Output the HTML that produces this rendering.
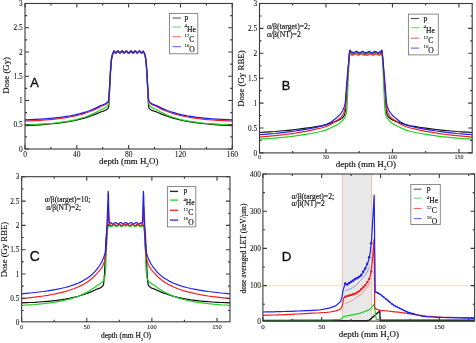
<!DOCTYPE html>
<html><head><meta charset="utf-8"><style>
html,body{margin:0;padding:0;background:#fff;overflow:hidden;}
svg{display:block;filter:blur(0.3px);}
</style></head><body>
<svg width="476" height="343" viewBox="0 0 476 343" fill="#111">
<rect width="476" height="343" fill="#fff"/>
<polyline points="25,125.6 30,125.4 35,125.1 40,124.8 45,124.4 50,124 55.1,123.5 60.1,122.9 65.1,122.2 70.1,121.3 75.1,120.4 80.1,119.2 85.1,117.9 90.1,116.3 95.1,114.4 100.1,112.3 100.4,112.1 100.7,112 100.9,111.9 101.2,111.8 101.4,111.7 101.7,111.6 102,111.5 102.2,111.4 102.5,111.3 102.7,111.3 103,111.2 103.3,111.1 103.5,111 103.8,111 104,110.9 104.3,110.8 104.6,110.7 104.8,110.6 105.1,110.5 105.3,110.4 105.6,110.3 105.8,110.2 106.1,110 106.4,109.8 106.6,109.7 106.9,109.5 107.1,109.2 107.4,109 107.7,108.7 107.9,108.4 108.2,108.1 108.4,107.8 108.7,106.2 109,102.7 109.2,98 109.5,93.1 109.7,88.4 110,82.8 110.3,77.1 110.5,72.4 110.8,68.5 111,65 111.3,62 111.5,59.8 111.8,58 112.1,56.5 112.3,55.3 112.6,54.3 112.8,53.6 113.1,53 113.4,52.5 113.6,52.1 113.9,51 114.1,51.1 114.4,51.3 114.7,51.6 114.9,52 115.2,52.3 115.4,52.7 115.7,52.9 116,53 116.2,52.9 116.5,52.7 116.7,52.4 117,52.1 117.2,51.7 117.5,51.4 117.8,51.1 118,51 118.3,51.1 118.5,51.2 118.8,51.5 119.1,51.9 119.3,52.3 119.6,52.6 119.8,52.8 120.1,53 120.4,52.9 120.6,52.8 120.9,52.5 121.1,52.2 121.4,51.8 121.7,51.4 121.9,51.2 122.2,51 122.4,51 122.7,51.2 122.9,51.4 123.2,51.8 123.5,52.2 123.7,52.5 124,52.8 124.2,52.9 124.5,53 124.8,52.8 125,52.6 125.3,52.3 125.5,51.9 125.8,51.5 126.1,51.2 126.3,51.1 126.6,51 126.8,51.1 127.1,51.4 127.4,51.7 127.6,52.1 127.9,52.4 128.1,52.7 128.4,52.9 128.7,53 128.9,52.9 129.2,52.7 129.4,52.4 129.7,52.1 129.9,51.7 130.2,51.4 130.5,51.1 130.7,51 131,51.1 131.2,51.2 131.5,51.5 131.8,51.9 132,52.3 132.3,52.6 132.5,52.8 132.8,53 133.1,52.9 133.3,52.8 133.6,52.5 133.8,52.2 134.1,51.8 134.4,51.4 134.6,51.2 134.9,51 135.1,51 135.4,51.2 135.6,51.4 135.9,51.8 136.2,52.2 136.4,52.5 136.7,52.8 136.9,52.9 137.2,53 137.5,52.8 137.7,52.6 138,52.3 138.2,51.9 138.5,51.5 138.8,51.2 139,51.1 139.3,51 139.5,51.1 139.8,51.4 140.1,51.7 140.3,52.1 140.6,52.4 140.8,52.7 141.1,52.9 141.3,53 141.6,52.9 141.9,52.7 142.1,52.3 142.4,52 142.6,51.6 142.9,51.3 143.2,51.1 143.4,52 143.7,52.1 143.9,52.5 144.2,53 144.5,53.6 144.7,54.3 145,55.3 145.2,56.5 145.5,58 145.8,59.8 146,62 146.3,65 146.5,68.5 146.8,72.4 147,77.1 147.3,82.8 147.6,88.4 147.8,93.1 148.1,98 148.3,102.7 148.6,106.2 148.9,107.8 149.1,108.1 149.4,108.4 149.6,108.7 149.9,109 150.2,109.2 150.4,109.5 150.7,109.7 150.9,109.8 151.2,110 151.5,110.2 151.7,110.3 152,110.4 152.2,110.5 152.5,110.6 152.7,110.7 153,110.8 153.3,110.9 153.5,111 153.8,111 154,111.1 154.3,111.2 154.6,111.3 154.8,111.3 155.1,111.4 155.3,111.5 155.6,111.6 155.9,111.7 156.1,111.8 156.4,111.9 156.6,112 156.9,112.1 157.2,112.3 162.2,114.4 167.2,116.3 172.2,117.9 177.2,119.2 182.2,120.4 187.2,121.3 192.2,122.2 197.2,122.9 202.2,123.5 207.3,124 212.3,124.4 217.3,124.8 222.3,125.1 227.3,125.4 232.3,125.6" fill="none" stroke="#111" stroke-width="1.2" stroke-linejoin="round" />
<polyline points="25,124.9 30,124.7 35,124.5 40,124.2 45,123.9 50,123.5 55.1,123 60.1,122.4 65.1,121.7 70.1,120.9 75.1,119.8 80.1,118.5 85.1,117 90.1,115.1 95.1,112.9 100.1,110.1 100.4,109.9 100.7,109.8 100.9,109.6 101.2,109.5 101.4,109.3 101.7,109.2 102,109.1 102.2,109 102.5,108.9 102.7,108.8 103,108.7 103.3,108.6 103.5,108.5 103.8,108.4 104,108.3 104.3,108.2 104.6,108 104.8,107.9 105.1,107.8 105.3,107.6 105.6,107.5 105.8,107.3 106.1,107.1 106.4,106.8 106.6,106.6 106.9,106.3 107.1,106 107.4,105.7 107.7,105.4 107.9,105 108.2,104.6 108.4,104.2 108.7,102.6 109,99.3 109.2,95 109.5,90.5 109.7,86.2 110,81.1 110.3,75.8 110.5,71.4 110.8,67.7 111,64.3 111.3,61.4 111.5,59.3 111.8,57.7 112.1,56.3 112.3,55.2 112.6,54.3 112.8,53.6 113.1,53 113.4,52.5 113.6,52.2 113.9,51.1 114.1,51.4 114.4,51.7 114.7,52.1 114.9,52.4 115.2,52.7 115.4,52.9 115.7,53 116,52.9 116.2,52.6 116.5,52.3 116.7,52 117,51.6 117.2,51.3 117.5,51.1 117.8,51 118,51.1 118.3,51.3 118.5,51.6 118.8,52 119.1,52.4 119.3,52.7 119.6,52.9 119.8,53 120.1,52.9 120.4,52.7 120.6,52.4 120.9,52.1 121.1,51.7 121.4,51.4 121.7,51.1 121.9,51 122.2,51.1 122.4,51.3 122.7,51.5 122.9,51.9 123.2,52.3 123.5,52.6 123.7,52.8 124,53 124.2,52.9 124.5,52.8 124.8,52.5 125,52.1 125.3,51.8 125.5,51.4 125.8,51.2 126.1,51 126.3,51.1 126.6,51.2 126.8,51.5 127.1,51.8 127.4,52.2 127.6,52.5 127.9,52.8 128.1,52.9 128.4,53 128.7,52.8 128.9,53 129.2,52.9 129.4,52.8 129.7,52.5 129.9,52.2 130.2,51.8 130.5,51.5 130.7,51.2 131,51.1 131.2,51 131.5,51.2 131.8,51.4 132,51.8 132.3,52.1 132.5,52.5 132.8,52.8 133.1,52.9 133.3,53 133.6,52.8 133.8,52.6 134.1,52.3 134.4,51.9 134.6,51.5 134.9,51.3 135.1,51.1 135.4,51 135.6,51.1 135.9,51.4 136.2,51.7 136.4,52.1 136.7,52.4 136.9,52.7 137.2,52.9 137.5,53 137.7,52.9 138,52.7 138.2,52.4 138.5,52 138.8,51.6 139,51.3 139.3,51.1 139.5,51 139.8,51.1 140.1,51.3 140.3,51.6 140.6,52 140.8,52.3 141.1,52.6 141.3,52.9 141.6,53 141.9,52.9 142.1,52.7 142.4,52.4 142.6,52.1 142.9,51.7 143.2,51.4 143.4,52 143.7,52.2 143.9,52.5 144.2,53 144.5,53.6 144.7,54.3 145,55.2 145.2,56.3 145.5,57.7 145.8,59.3 146,61.4 146.3,64.3 146.5,67.7 146.8,71.4 147,75.8 147.3,81.1 147.6,86.2 147.8,90.5 148.1,95 148.3,99.3 148.6,102.6 148.9,104.2 149.1,104.6 149.4,105 149.6,105.4 149.9,105.7 150.2,106 150.4,106.3 150.7,106.6 150.9,106.8 151.2,107.1 151.5,107.3 151.7,107.5 152,107.6 152.2,107.8 152.5,107.9 152.7,108 153,108.2 153.3,108.3 153.5,108.4 153.8,108.5 154,108.6 154.3,108.7 154.6,108.8 154.8,108.9 155.1,109 155.3,109.1 155.6,109.2 155.9,109.3 156.1,109.5 156.4,109.6 156.6,109.8 156.9,109.9 157.2,110.1 162.2,112.9 167.2,115.1 172.2,117 177.2,118.5 182.2,119.8 187.2,120.9 192.2,121.7 197.2,122.4 202.2,123 207.3,123.5 212.3,123.9 217.3,124.2 222.3,124.5 227.3,124.7 232.3,124.9" fill="none" stroke="#20d020" stroke-width="1.2" stroke-linejoin="round" />
<polyline points="25,121 30,120.8 35,120.6 40,120.3 45,120 50,119.6 55.1,119.1 60.1,118.5 65.1,117.8 70.1,117 75.1,115.9 80.1,114.7 85.1,113.3 90.1,111.5 95.1,109.4 100.1,106.9 100.4,106.7 100.7,106.6 100.9,106.4 101.2,106.3 101.4,106.2 101.7,106 102,105.9 102.2,105.8 102.5,105.7 102.7,105.7 103,105.6 103.3,105.5 103.5,105.4 103.8,105.3 104,105.2 104.3,105.1 104.6,105 104.8,104.9 105.1,104.8 105.3,104.6 105.6,104.5 105.8,104.3 106.1,104.1 106.4,103.9 106.6,103.7 106.9,103.5 107.1,103.2 107.4,102.9 107.7,102.6 107.9,102.3 108.2,101.9 108.4,101.5 108.7,99.9 109,96.7 109.2,92.4 109.5,88 109.7,83.9 110,79.2 110.3,74.5 110.5,70.4 110.8,66.9 111,63.7 111.3,60.9 111.5,58.8 111.8,57.3 112.1,55.9 112.3,54.8 112.6,54 112.8,53.4 113.1,52.9 113.4,52.4 113.6,52.1 113.9,51.5 114.1,51.8 114.4,52.2 114.7,52.5 114.9,52.8 115.2,52.9 115.4,53 115.7,52.8 116,52.6 116.2,52.2 116.5,51.9 116.7,51.5 117,51.2 117.2,51.1 117.5,51 117.8,51.2 118,51.4 118.3,51.7 118.5,52.1 118.8,52.5 119.1,52.7 119.3,52.9 119.6,53 119.8,52.9 120.1,52.6 120.4,52.3 120.6,51.9 120.9,51.6 121.1,51.3 121.4,51.1 121.7,51 121.9,51.1 122.2,51.3 122.4,51.6 122.7,52 122.9,52.4 123.2,52.7 123.5,52.9 123.7,53 124,52.9 124.2,52.7 124.5,52.4 124.8,52 125,51.7 125.3,51.4 125.5,51.1 125.8,51 126.1,51.1 126.3,51.3 126.6,51.6 126.8,51.9 127.1,52.3 127.4,52.6 127.6,52.9 127.9,53 128.1,52.9 128.4,52.8 128.7,52.5 128.9,52.8 129.2,52.9 129.4,53 129.7,52.9 129.9,52.6 130.2,52.3 130.5,51.9 130.7,51.6 131,51.3 131.2,51.1 131.5,51 131.8,51.1 132,51.4 132.3,51.7 132.5,52 132.8,52.4 133.1,52.7 133.3,52.9 133.6,53 133.8,52.9 134.1,52.7 134.4,52.4 134.6,52 134.9,51.6 135.1,51.3 135.4,51.1 135.6,51 135.9,51.1 136.2,51.3 136.4,51.6 136.7,51.9 136.9,52.3 137.2,52.6 137.5,52.9 137.7,53 138,52.9 138.2,52.7 138.5,52.5 138.8,52.1 139,51.7 139.3,51.4 139.5,51.2 139.8,51 140.1,51.1 140.3,51.2 140.6,51.5 140.8,51.9 141.1,52.2 141.3,52.6 141.6,52.8 141.9,53 142.1,52.9 142.4,52.8 142.6,52.5 142.9,52.2 143.2,51.8 143.4,52 143.7,52.1 143.9,52.4 144.2,52.9 144.5,53.4 144.7,54 145,54.8 145.2,55.9 145.5,57.3 145.8,58.8 146,60.9 146.3,63.7 146.5,66.9 146.8,70.4 147,74.5 147.3,79.2 147.6,83.9 147.8,88 148.1,92.4 148.3,96.7 148.6,99.9 148.9,101.5 149.1,101.9 149.4,102.3 149.6,102.6 149.9,102.9 150.2,103.2 150.4,103.5 150.7,103.7 150.9,103.9 151.2,104.1 151.5,104.3 151.7,104.5 152,104.6 152.2,104.8 152.5,104.9 152.7,105 153,105.1 153.3,105.2 153.5,105.3 153.8,105.4 154,105.5 154.3,105.6 154.6,105.7 154.8,105.7 155.1,105.8 155.3,105.9 155.6,106 155.9,106.2 156.1,106.3 156.4,106.4 156.6,106.6 156.9,106.7 157.2,106.9 162.2,109.4 167.2,111.5 172.2,113.3 177.2,114.7 182.2,115.9 187.2,117 192.2,117.8 197.2,118.5 202.2,119.1 207.3,119.6 212.3,120 217.3,120.3 222.3,120.6 227.3,120.8 232.3,121" fill="none" stroke="#ee2020" stroke-width="1.2" stroke-linejoin="round" />
<polyline points="25,119.8 30,119.6 35,119.4 40,119.1 45,118.8 50,118.4 55.1,117.9 60.1,117.3 65.1,116.6 70.1,115.8 75.1,114.8 80.1,113.6 85.1,112.2 90.1,110.5 95.1,108.4 100.1,105.9 100.4,105.8 100.7,105.7 100.9,105.5 101.2,105.4 101.4,105.3 101.7,105.2 102,105.1 102.2,105 102.5,104.9 102.7,104.8 103,104.7 103.3,104.6 103.5,104.5 103.8,104.4 104,104.3 104.3,104.2 104.6,104.1 104.8,104 105.1,103.9 105.3,103.8 105.6,103.6 105.8,103.5 106.1,103.3 106.4,103.1 106.6,102.9 106.9,102.7 107.1,102.4 107.4,102.1 107.7,101.8 107.9,101.5 108.2,101.1 108.4,100.8 108.7,99.3 109,96.2 109.2,92.2 109.5,87.9 109.7,83.9 110,79.3 110.3,74.5 110.5,70.4 110.8,66.9 111,63.7 111.3,60.9 111.5,58.8 111.8,57.3 112.1,55.9 112.3,54.8 112.6,54 112.8,53.4 113.1,52.9 113.4,52.4 113.6,52.1 113.9,51 114.1,51.2 114.4,51.5 114.7,51.8 114.9,52.2 115.2,52.5 115.4,52.8 115.7,52.9 116,53 116.2,52.8 116.5,52.6 116.7,52.2 117,51.9 117.2,51.5 117.5,51.2 117.8,51.1 118,51 118.3,51.1 118.5,51.4 118.8,51.7 119.1,52.1 119.3,52.4 119.6,52.7 119.8,52.9 120.1,53 120.4,52.9 120.6,52.7 120.9,52.3 121.1,52 121.4,51.6 121.7,51.3 121.9,51.1 122.2,51 122.4,51.1 122.7,51.3 122.9,51.6 123.2,52 123.5,52.4 123.7,52.7 124,52.9 124.2,53 124.5,52.9 124.8,52.7 125,52.4 125.3,52.1 125.5,51.7 125.8,51.4 126.1,51.1 126.3,51 126.6,51.1 126.8,51.2 127.1,51.5 127.4,51.9 127.6,52.3 127.9,52.6 128.1,52.8 128.4,53 128.7,52.9 128.9,53 129.2,52.8 129.4,52.6 129.7,52.3 129.9,51.9 130.2,51.5 130.5,51.2 130.7,51.1 131,51 131.2,51.1 131.5,51.4 131.8,51.7 132,52.1 132.3,52.4 132.5,52.7 132.8,52.9 133.1,53 133.3,52.9 133.6,52.7 133.8,52.4 134.1,52 134.4,51.6 134.6,51.3 134.9,51.1 135.1,51 135.4,51.1 135.6,51.3 135.9,51.6 136.2,52 136.4,52.3 136.7,52.7 136.9,52.9 137.2,53 137.5,52.9 137.7,52.7 138,52.4 138.2,52.1 138.5,51.7 138.8,51.4 139,51.1 139.3,51 139.5,51.1 139.8,51.2 140.1,51.5 140.3,51.9 140.6,52.2 140.8,52.6 141.1,52.8 141.3,53 141.6,52.9 141.9,52.8 142.1,52.5 142.4,52.2 142.6,51.8 142.9,51.5 143.2,51.2 143.4,52 143.7,52.1 143.9,52.4 144.2,52.9 144.5,53.4 144.7,54 145,54.8 145.2,55.9 145.5,57.3 145.8,58.8 146,60.9 146.3,63.7 146.5,66.9 146.8,70.4 147,74.5 147.3,79.3 147.6,83.9 147.8,87.9 148.1,92.2 148.3,96.2 148.6,99.3 148.9,100.8 149.1,101.1 149.4,101.5 149.6,101.8 149.9,102.1 150.2,102.4 150.4,102.7 150.7,102.9 150.9,103.1 151.2,103.3 151.5,103.5 151.7,103.6 152,103.8 152.2,103.9 152.5,104 152.7,104.1 153,104.2 153.3,104.3 153.5,104.4 153.8,104.5 154,104.6 154.3,104.7 154.6,104.8 154.8,104.9 155.1,105 155.3,105.1 155.6,105.2 155.9,105.3 156.1,105.4 156.4,105.5 156.6,105.7 156.9,105.8 157.2,105.9 162.2,108.4 167.2,110.5 172.2,112.2 177.2,113.6 182.2,114.8 187.2,115.8 192.2,116.6 197.2,117.3 202.2,117.9 207.3,118.4 212.3,118.8 217.3,119.1 222.3,119.4 227.3,119.6 232.3,119.8" fill="none" stroke="#2020ee" stroke-width="1.2" stroke-linejoin="round" />
<rect x="25" y="3.47" width="207.3" height="145.53" fill="none" stroke="#3a3a3a" stroke-width="1.1"/>
<path d="M25 149v-4M25 3.47v4M76.83 149v-4M76.83 3.47v4M128.65 149v-4M128.65 3.47v4M180.47 149v-4M180.47 3.47v4M232.3 149v-4M232.3 3.47v4M50.91 149v-2M50.91 3.47v2M102.74 149v-2M102.74 3.47v2M154.56 149v-2M154.56 3.47v2M206.39 149v-2M206.39 3.47v2M25 149h4M232.3 149h-4M25 124.75h4M232.3 124.75h-4M25 100.5h4M232.3 100.5h-4M25 76.25h4M232.3 76.25h-4M25 52h4M232.3 52h-4M25 27.75h4M232.3 27.75h-4M25 3.5h4M232.3 3.5h-4M25 136.88h2M232.3 136.88h-2M25 112.62h2M232.3 112.62h-2M25 88.38h2M232.3 88.38h-2M25 64.12h2M232.3 64.12h-2M25 39.88h2M232.3 39.88h-2M25 15.62h2M232.3 15.62h-2" stroke="#3a3a3a" stroke-width="1.1" fill="none"/>
<text x="25" y="156.7" font-size="7.5" text-anchor="middle" font-family='"Liberation Serif", serif' stroke="#111" stroke-width="0.07">0</text>
<text x="76.83" y="156.7" font-size="7.5" text-anchor="middle" font-family='"Liberation Serif", serif' stroke="#111" stroke-width="0.07">40</text>
<text x="128.65" y="156.7" font-size="7.5" text-anchor="middle" font-family='"Liberation Serif", serif' stroke="#111" stroke-width="0.07">80</text>
<text x="180.47" y="156.7" font-size="7.5" text-anchor="middle" font-family='"Liberation Serif", serif' stroke="#111" stroke-width="0.07">120</text>
<text x="232.3" y="156.7" font-size="7.5" text-anchor="middle" font-family='"Liberation Serif", serif' stroke="#111" stroke-width="0.07">160</text>
<text x="22.7" y="151.6" font-size="7.3" text-anchor="end" font-family='"Liberation Serif", serif' stroke="#111" stroke-width="0.07">0</text>
<text x="22.7" y="127.35" font-size="7.3" text-anchor="end" font-family='"Liberation Serif", serif' stroke="#111" stroke-width="0.07">0.5</text>
<text x="22.7" y="103.1" font-size="7.3" text-anchor="end" font-family='"Liberation Serif", serif' stroke="#111" stroke-width="0.07">1</text>
<text x="22.7" y="78.85" font-size="7.3" text-anchor="end" font-family='"Liberation Serif", serif' stroke="#111" stroke-width="0.07">1.5</text>
<text x="22.7" y="54.6" font-size="7.3" text-anchor="end" font-family='"Liberation Serif", serif' stroke="#111" stroke-width="0.07">2</text>
<text x="22.7" y="30.35" font-size="7.3" text-anchor="end" font-family='"Liberation Serif", serif' stroke="#111" stroke-width="0.07">2.5</text>
<text x="22.7" y="6.1" font-size="7.3" text-anchor="end" font-family='"Liberation Serif", serif' stroke="#111" stroke-width="0.07">3</text>
<text x="128.7" y="163.9" font-family='"Liberation Serif", serif' font-size="8.9" text-anchor="middle" stroke="#111" stroke-width="0.15">depth (mm H<tspan font-size="5.34" dy="2.94">2</tspan><tspan dy="-2.94">O)</tspan></text>
<text x="0" y="0" transform="translate(9 75.4) rotate(-90)" font-family='"Liberation Serif", serif' font-size="8.8" text-anchor="middle" stroke="#111" stroke-width="0.15">Dose (Gy)</text>
<text x="34.6" y="86.6" font-size="12.8" text-anchor="middle" font-family='"Liberation Sans", sans-serif' stroke="#111" stroke-width="0.35">A</text>
<rect x="169.5" y="13.5" width="28.3" height="40.3" fill="#fff" stroke="#777" stroke-width="0.85"/>
<path d="M172.5 18H180.9" stroke="#111" stroke-width="1.0" opacity="0.75"/>
<text x="184.5" y="20" font-family='"Liberation Serif", serif' font-size="7.6" stroke="#111" stroke-width="0.15">p</text>
<path d="M172.5 27H180.9" stroke="#20d020" stroke-width="1.0" opacity="0.75"/>
<text x="184.5" y="32" font-family='"Liberation Serif", serif' font-size="7.6" stroke="#111" stroke-width="0.15"><tspan font-size="4.86" dy="-4.56" stroke-width="0.07">4</tspan><tspan dy="4.56">He</tspan></text>
<path d="M172.5 36.8H180.9" stroke="#ee2020" stroke-width="1.0" opacity="0.75"/>
<text x="184.5" y="41.7" font-family='"Liberation Serif", serif' font-size="7.6" stroke="#111" stroke-width="0.15"><tspan font-size="4.86" dy="-4.56" stroke-width="0.07">12</tspan><tspan dy="4.56">C</tspan></text>
<path d="M172.5 46.7H180.9" stroke="#2020ee" stroke-width="1.0" opacity="0.75"/>
<text x="184.5" y="51.6" font-family='"Liberation Serif", serif' font-size="7.6" stroke="#111" stroke-width="0.15"><tspan font-size="4.86" dy="-4.56" stroke-width="0.07">16</tspan><tspan dy="4.56">O</tspan></text>
<polyline points="259.5,132.5 264.6,132.2 269.8,131.8 274.9,131.5 280.1,131 285.2,130.6 290.3,130.1 295.5,129.5 300.6,128.9 305.8,128.2 310.9,127.5 316,126.7 321.2,125.8 326.3,124.6 331.5,122.9 336.6,121.1 336.9,121 337.1,120.9 337.4,120.7 337.7,120.6 337.9,120.5 338.2,120.4 338.5,120.3 338.7,120.2 339,120 339.3,119.9 339.5,119.8 339.8,119.6 340.1,119.5 340.3,119.3 340.6,119.1 340.9,119 341.1,118.8 341.4,118.6 341.7,118.4 341.9,118.2 342.2,118 342.5,117.8 342.7,117.5 343,117.3 343.3,116.9 343.5,116.6 343.8,116.2 344,115.8 344.3,115.3 344.6,114.6 344.8,113.7 345.1,112.4 345.4,110.4 345.6,106.8 345.9,102.3 346.2,98.1 346.4,94.7 346.7,91.5 347,88.3 347.2,85 347.5,81.3 347.8,77.1 348,72.7 348.3,68.3 348.6,64.2 348.8,60.8 349.1,57.5 349.4,54.3 349.6,51.8 349.9,50.8 350.2,50.9 350.4,51.2 350.7,52.1 351,52.7 351.2,52.7 351.5,52.8 351.8,52.9 352,53.1 352.3,53.3 352.6,53.5 352.8,53.6 353.1,53.8 353.4,53.9 353.6,53.9 353.9,53.9 354.2,53.9 354.4,53.8 354.7,53.7 354.9,53.5 355.2,53.4 355.5,53.2 355.7,53 356,52.9 356.3,52.8 356.5,52.7 356.8,52.7 357.1,52.7 357.3,52.8 357.6,52.9 357.9,53 358.1,53.2 358.4,53.4 358.7,53.5 358.9,53.7 359.2,53.8 359.5,53.9 359.7,53.9 360,53.9 360.3,53.9 360.5,53.8 360.8,53.6 361.1,53.5 361.3,53.3 361.6,53.1 361.9,52.9 362.1,52.8 362.4,52.7 362.7,52.7 362.9,52.7 363.2,52.7 363.5,52.8 363.7,52.9 364,53.1 364.3,53.3 364.5,53.5 364.8,53.6 365.1,53.8 365.3,53.9 365.6,53.9 365.9,53.9 366.1,53.9 366.4,53.9 366.6,53.8 366.9,53.6 367.2,53.5 367.4,53.3 367.7,53.1 368,52.9 368.2,52.8 368.5,52.7 368.8,52.7 369,52.7 369.3,52.7 369.6,52.8 369.8,52.9 370.1,53.1 370.4,53.3 370.6,53.5 370.9,53.6 371.2,53.8 371.4,53.9 371.7,53.9 372,53.9 372.2,53.9 372.5,53.8 372.8,53.7 373,53.5 373.3,53.4 373.6,53.2 373.8,53 374.1,52.9 374.4,52.8 374.6,52.7 374.9,52.7 375.2,52.7 375.4,52.8 375.7,52.9 376,53 376.2,53.2 376.5,53.4 376.8,53.5 377,53.7 377.3,53.8 377.5,53.9 377.8,53.9 378.1,53.9 378.3,53.9 378.6,53.8 378.9,53.6 379.1,53.5 379.4,53.3 379.7,53.1 379.9,52.9 380.2,52.8 380.5,52.7 380.7,52.7 381,52.1 381.3,51.2 381.5,50.9 381.8,50.8 382.1,51.8 382.3,54.3 382.6,57.5 382.9,60.8 383.1,64.2 383.4,68.3 383.7,72.7 383.9,77.1 384.2,81.3 384.5,85 384.7,88.3 385,91.5 385.3,94.7 385.5,98.1 385.8,102.3 386.1,106.8 386.3,110.4 386.6,112.4 386.9,113.7 387.1,114.6 387.4,115.3 387.7,115.8 387.9,116.2 388.2,116.6 388.4,116.9 388.7,117.3 389,117.5 389.2,117.8 389.5,118 389.8,118.2 390,118.4 390.3,118.6 390.6,118.8 390.8,119 391.1,119.1 391.4,119.3 391.6,119.5 391.9,119.6 392.2,119.8 392.4,119.9 392.7,120 393,120.2 393.2,120.3 393.5,120.4 393.8,120.5 394,120.6 394.3,120.7 394.6,120.9 394.8,121 395.1,121.1 400.2,122.9 405.4,124.6 410.5,125.8 415.7,126.7 420.8,127.5 425.9,128.2 431.1,128.9 436.2,129.5 441.4,130.1 446.5,130.6 451.6,131 456.8,131.5 461.9,131.8 467.1,132.2 472.2,132.5" fill="none" stroke="#111" stroke-width="1.2" stroke-linejoin="round" />
<polyline points="259.5,139.2 264.6,138.8 269.8,138.5 274.9,138.1 280.1,137.6 285.2,137.1 290.3,136.6 295.5,135.9 300.6,135.2 305.8,134.4 310.9,133.5 316,132.5 321.2,131.5 326.3,129.9 331.5,127.5 336.6,125.1 336.9,124.9 337.1,124.8 337.4,124.6 337.7,124.4 337.9,124.3 338.2,124.1 338.5,123.9 338.7,123.7 339,123.5 339.3,123.4 339.5,123.2 339.8,123 340.1,122.8 340.3,122.5 340.6,122.3 340.9,122.1 341.1,121.9 341.4,121.6 341.7,121.4 341.9,121.1 342.2,120.8 342.5,120.6 342.7,120.3 343,120 343.3,119.7 343.5,119.4 343.8,119 344,118.7 344.3,118.4 344.6,118 344.8,117.6 345.1,117.1 345.4,116.5 345.6,115.8 345.9,115.1 346.2,113.9 346.4,112.2 346.7,109.9 347,106.9 347.2,101.9 347.5,96 347.8,90.2 348,83.7 348.3,77 348.6,70.7 348.8,65.7 349.1,61.5 349.4,57.4 349.6,54.1 349.9,52.1 350.2,51.8 350.4,51.9 350.7,52.4 351,53.1 351.2,53.3 351.5,53.4 351.8,53.6 352,53.8 352.3,53.9 352.6,54.1 352.8,54.2 353.1,54.2 353.4,54.2 353.6,54.1 353.9,54 354.2,53.9 354.4,53.7 354.7,53.5 354.9,53.3 355.2,53.2 355.5,53.1 355.7,53 356,52.9 356.3,52.9 356.5,53 356.8,53.1 357.1,53.2 357.3,53.4 357.6,53.5 357.9,53.7 358.1,53.9 358.4,54 358.7,54.1 358.9,54.2 359.2,54.2 359.5,54.2 359.7,54.1 360,53.9 360.3,53.8 360.5,53.6 360.8,53.4 361.1,53.3 361.3,53.1 361.6,53 361.9,52.9 362.1,52.9 362.4,52.9 362.7,53 362.9,53.1 363.2,53.3 363.5,53.4 363.7,53.6 364,53.8 364.3,53.9 364.5,54.1 364.8,54.2 365.1,54.2 365.3,54.2 365.6,54.1 365.9,54 366.1,54.1 366.4,54.2 366.6,54.2 366.9,54.2 367.2,54.1 367.4,53.9 367.7,53.8 368,53.6 368.2,53.4 368.5,53.3 368.8,53.1 369,53 369.3,52.9 369.6,52.9 369.8,52.9 370.1,53 370.4,53.1 370.6,53.3 370.9,53.4 371.2,53.6 371.4,53.8 371.7,53.9 372,54.1 372.2,54.2 372.5,54.2 372.8,54.2 373,54.1 373.3,54 373.6,53.9 373.8,53.7 374.1,53.5 374.4,53.4 374.6,53.2 374.9,53.1 375.2,53 375.4,52.9 375.7,52.9 376,53 376.2,53.1 376.5,53.2 376.8,53.3 377,53.5 377.3,53.7 377.5,53.9 377.8,54 378.1,54.1 378.3,54.2 378.6,54.2 378.9,54.2 379.1,54.1 379.4,53.9 379.7,53.8 379.9,53.6 380.2,53.4 380.5,53.3 380.7,53.1 381,52.4 381.3,51.9 381.5,51.8 381.8,52.1 382.1,54.1 382.3,57.4 382.6,61.5 382.9,65.8 383.1,70.7 383.4,77 383.7,83.7 383.9,90.2 384.2,96 384.5,101.9 384.7,106.9 385,109.9 385.3,112.2 385.5,113.9 385.8,115.1 386.1,115.8 386.3,116.5 386.6,117.1 386.9,117.6 387.1,118 387.4,118.4 387.7,118.7 387.9,119 388.2,119.4 388.4,119.7 388.7,120 389,120.3 389.2,120.6 389.5,120.8 389.8,121.1 390,121.4 390.3,121.6 390.6,121.9 390.8,122.1 391.1,122.3 391.4,122.5 391.6,122.8 391.9,123 392.2,123.2 392.4,123.4 392.7,123.5 393,123.7 393.2,123.9 393.5,124.1 393.8,124.3 394,124.4 394.3,124.6 394.6,124.8 394.8,124.9 395.1,125.1 400.2,127.5 405.4,129.9 410.5,131.5 415.7,132.5 420.8,133.5 425.9,134.4 431.1,135.2 436.2,135.9 441.4,136.6 446.5,137.1 451.6,137.6 456.8,138.1 461.9,138.5 467.1,138.8 472.2,139.2" fill="none" stroke="#20d020" stroke-width="1.2" stroke-linejoin="round" />
<polyline points="259.5,137.2 264.6,136.7 269.8,136.2 274.9,135.7 280.1,135.1 285.2,134.5 290.3,133.8 295.5,133.1 300.6,132.2 305.8,131.3 310.9,130.3 316,129.2 321.2,128 326.3,126.5 331.5,124 336.6,120.6 336.9,120.4 337.1,120.3 337.4,120.1 337.7,119.9 337.9,119.7 338.2,119.5 338.5,119.3 338.7,119.2 339,119 339.3,118.8 339.5,118.5 339.8,118.3 340.1,118.1 340.3,117.9 340.6,117.6 340.9,117.3 341.1,117 341.4,116.7 341.7,116.4 341.9,116.1 342.2,115.7 342.5,115.4 342.7,114.9 343,114.5 343.3,114 343.5,113.5 343.8,112.9 344,112.3 344.3,111.6 344.6,110.8 344.8,109.7 345.1,108.5 345.4,107 345.6,105.1 345.9,101.9 346.2,97.5 346.4,93.1 346.7,89.5 347,86 347.2,82.5 347.5,78.9 347.8,75.1 348,71.2 348.3,67.5 348.6,63.9 348.8,60.8 349.1,57.6 349.4,54.3 349.6,51.8 349.9,50.8 350.2,50.9 350.4,51.4 350.7,52.7 351,54.5 351.2,54.7 351.5,54.9 351.8,55 352,55.1 352.3,55.2 352.6,55.2 352.8,55.2 353.1,55.1 353.4,54.9 353.6,54.8 353.9,54.6 354.2,54.4 354.4,54.3 354.7,54.1 354.9,54 355.2,53.9 355.5,53.9 355.7,53.9 356,54 356.3,54.1 356.5,54.3 356.8,54.4 357.1,54.6 357.3,54.8 357.6,54.9 357.9,55.1 358.1,55.2 358.4,55.2 358.7,55.2 358.9,55.1 359.2,55 359.5,54.9 359.7,54.7 360,54.5 360.3,54.3 360.5,54.2 360.8,54 361.1,54 361.3,53.9 361.6,53.9 361.9,54 362.1,54.1 362.4,54.2 362.7,54.3 362.9,54.5 363.2,54.7 363.5,54.9 363.7,55 364,55.1 364.3,55.2 364.5,55.2 364.8,55.2 365.1,55.1 365.3,54.9 365.6,54.8 365.9,54.6 366.1,54.8 366.4,54.9 366.6,55.1 366.9,55.2 367.2,55.2 367.4,55.2 367.7,55.1 368,55 368.2,54.9 368.5,54.7 368.8,54.5 369,54.3 369.3,54.2 369.6,54.1 369.8,54 370.1,53.9 370.4,53.9 370.6,54 370.9,54 371.2,54.2 371.4,54.3 371.7,54.5 372,54.7 372.2,54.9 372.5,55 372.8,55.1 373,55.2 373.3,55.2 373.6,55.2 373.8,55.1 374.1,54.9 374.4,54.8 374.6,54.6 374.9,54.4 375.2,54.3 375.4,54.1 375.7,54 376,53.9 376.2,53.9 376.5,53.9 376.8,54 377,54.1 377.3,54.3 377.5,54.4 377.8,54.6 378.1,54.8 378.3,54.9 378.6,55.1 378.9,55.2 379.1,55.2 379.4,55.2 379.7,55.1 379.9,55 380.2,54.9 380.5,54.7 380.7,54.5 381,52.7 381.3,51.4 381.5,50.9 381.8,50.8 382.1,51.8 382.3,54.3 382.6,57.6 382.9,60.8 383.1,63.9 383.4,67.5 383.7,71.2 383.9,75.1 384.2,78.9 384.5,82.5 384.7,86 385,89.5 385.3,93.1 385.5,97.5 385.8,101.9 386.1,105.1 386.3,107 386.6,108.5 386.9,109.7 387.1,110.8 387.4,111.6 387.7,112.3 387.9,112.9 388.2,113.5 388.4,114 388.7,114.5 389,114.9 389.2,115.4 389.5,115.7 389.8,116.1 390,116.4 390.3,116.7 390.6,117 390.8,117.3 391.1,117.6 391.4,117.9 391.6,118.1 391.9,118.3 392.2,118.5 392.4,118.8 392.7,119 393,119.2 393.2,119.3 393.5,119.5 393.8,119.7 394,119.9 394.3,120.1 394.6,120.3 394.8,120.4 395.1,120.6 400.2,124 405.4,126.5 410.5,128 415.7,129.2 420.8,130.3 425.9,131.3 431.1,132.2 436.2,133.1 441.4,133.8 446.5,134.5 451.6,135.1 456.8,135.7 461.9,136.2 467.1,136.7 472.2,137.2" fill="none" stroke="#ee2020" stroke-width="1.2" stroke-linejoin="round" />
<polyline points="259.5,134.7 264.6,134.3 269.8,133.9 274.9,133.5 280.1,132.9 285.2,132.4 290.3,131.7 295.5,131 300.6,130.2 305.8,129.3 310.9,128.4 316,127.3 321.2,126.1 326.3,124.6 331.5,121.7 336.6,117.7 336.9,117.4 337.1,117.2 337.4,117 337.7,116.7 337.9,116.5 338.2,116.3 338.5,116 338.7,115.8 339,115.5 339.3,115.2 339.5,115 339.8,114.7 340.1,114.4 340.3,114.1 340.6,113.7 340.9,113.4 341.1,113.1 341.4,112.7 341.7,112.3 341.9,111.9 342.2,111.4 342.5,111 342.7,110.5 343,109.9 343.3,109.4 343.5,108.7 343.8,108.1 344,107.4 344.3,106.6 344.6,105.7 344.8,104.7 345.1,103.4 345.4,101.5 345.6,98.3 345.9,94.1 346.2,90 346.4,86.5 346.7,83.3 347,80.2 347.2,77.2 347.5,74.2 347.8,71.2 348,68.2 348.3,65.3 348.6,62.5 348.8,59.8 349.1,56.8 349.4,53.6 349.6,51.1 349.9,50.1 350.2,50.1 350.4,50.4 350.7,51.2 351,51.5 351.2,51.6 351.5,51.7 351.8,51.9 352,52 352.3,52.2 352.6,52.4 352.8,52.5 353.1,52.6 353.4,52.7 353.6,52.7 353.9,52.7 354.2,52.6 354.4,52.4 354.7,52.3 354.9,52.1 355.2,51.9 355.5,51.8 355.7,51.6 356,51.5 356.3,51.4 356.5,51.4 356.8,51.4 357.1,51.5 357.3,51.6 357.6,51.8 357.9,52 358.1,52.1 358.4,52.3 358.7,52.5 358.9,52.6 359.2,52.7 359.5,52.7 359.7,52.7 360,52.6 360.3,52.5 360.5,52.4 360.8,52.2 361.1,52 361.3,51.8 361.6,51.7 361.9,51.6 362.1,51.5 362.4,51.4 362.7,51.4 362.9,51.5 363.2,51.6 363.5,51.7 363.7,51.9 364,52 364.3,52.2 364.5,52.4 364.8,52.5 365.1,52.6 365.3,52.7 365.6,52.7 365.9,52.7 366.1,52.7 366.4,52.7 366.6,52.6 366.9,52.5 367.2,52.4 367.4,52.2 367.7,52 368,51.9 368.2,51.7 368.5,51.6 368.8,51.5 369,51.4 369.3,51.4 369.6,51.5 369.8,51.6 370.1,51.7 370.4,51.8 370.6,52 370.9,52.2 371.2,52.4 371.4,52.5 371.7,52.6 372,52.7 372.2,52.7 372.5,52.7 372.8,52.6 373,52.5 373.3,52.3 373.6,52.1 373.8,52 374.1,51.8 374.4,51.6 374.6,51.5 374.9,51.4 375.2,51.4 375.4,51.4 375.7,51.5 376,51.6 376.2,51.8 376.5,51.9 376.8,52.1 377,52.3 377.3,52.4 377.5,52.6 377.8,52.7 378.1,52.7 378.3,52.7 378.6,52.6 378.9,52.5 379.1,52.4 379.4,52.2 379.7,52 379.9,51.9 380.2,51.7 380.5,51.6 380.7,51.5 381,51.2 381.3,50.4 381.5,50.1 381.8,50.1 382.1,51.1 382.3,53.6 382.6,56.8 382.9,59.8 383.1,62.5 383.4,65.3 383.7,68.2 383.9,71.2 384.2,74.2 384.5,77.2 384.7,80.2 385,83.3 385.3,86.5 385.5,90 385.8,94.1 386.1,98.3 386.3,101.5 386.6,103.4 386.9,104.7 387.1,105.7 387.4,106.6 387.7,107.4 387.9,108.1 388.2,108.7 388.4,109.4 388.7,109.9 389,110.5 389.2,111 389.5,111.4 389.8,111.9 390,112.3 390.3,112.7 390.6,113.1 390.8,113.4 391.1,113.7 391.4,114.1 391.6,114.4 391.9,114.7 392.2,115 392.4,115.2 392.7,115.5 393,115.8 393.2,116 393.5,116.3 393.8,116.5 394,116.7 394.3,117 394.6,117.2 394.8,117.4 395.1,117.7 400.2,121.7 405.4,124.6 410.5,126.1 415.7,127.3 420.8,128.4 425.9,129.3 431.1,130.2 436.2,131 441.4,131.7 446.5,132.4 451.6,132.9 456.8,133.5 461.9,133.9 467.1,134.3 472.2,134.7" fill="none" stroke="#2020ee" stroke-width="1.2" stroke-linejoin="round" />
<rect x="259.5" y="3.5" width="212.7" height="149.4" fill="none" stroke="#3a3a3a" stroke-width="1.1"/>
<path d="M259.5 152.9v-4M259.5 3.5v4M325.97 152.9v-4M325.97 3.5v4M392.44 152.9v-4M392.44 3.5v4M458.91 152.9v-4M458.91 3.5v4M292.73 152.9v-2M292.73 3.5v2M359.2 152.9v-2M359.2 3.5v2M425.67 152.9v-2M425.67 3.5v2M259.5 152.9h4M472.2 152.9h-4M259.5 128h4M472.2 128h-4M259.5 103.1h4M472.2 103.1h-4M259.5 78.2h4M472.2 78.2h-4M259.5 53.3h4M472.2 53.3h-4M259.5 28.4h4M472.2 28.4h-4M259.5 3.5h4M472.2 3.5h-4M259.5 140.45h2M472.2 140.45h-2M259.5 115.55h2M472.2 115.55h-2M259.5 90.65h2M472.2 90.65h-2M259.5 65.75h2M472.2 65.75h-2M259.5 40.85h2M472.2 40.85h-2M259.5 15.95h2M472.2 15.95h-2" stroke="#3a3a3a" stroke-width="1.1" fill="none"/>
<text x="259.5" y="159.2" font-size="6.0" text-anchor="middle" font-family='"Liberation Serif", serif' stroke="#111" stroke-width="0.07">0</text>
<text x="325.97" y="159.2" font-size="6.0" text-anchor="middle" font-family='"Liberation Serif", serif' stroke="#111" stroke-width="0.07">50</text>
<text x="392.44" y="159.2" font-size="6.0" text-anchor="middle" font-family='"Liberation Serif", serif' stroke="#111" stroke-width="0.07">100</text>
<text x="458.91" y="159.2" font-size="6.0" text-anchor="middle" font-family='"Liberation Serif", serif' stroke="#111" stroke-width="0.07">150</text>
<text x="257.2" y="155.5" font-size="7.3" text-anchor="end" font-family='"Liberation Serif", serif' stroke="#111" stroke-width="0.07">0</text>
<text x="257.2" y="130.6" font-size="7.3" text-anchor="end" font-family='"Liberation Serif", serif' stroke="#111" stroke-width="0.07">0.5</text>
<text x="257.2" y="105.7" font-size="7.3" text-anchor="end" font-family='"Liberation Serif", serif' stroke="#111" stroke-width="0.07">1</text>
<text x="257.2" y="80.8" font-size="7.3" text-anchor="end" font-family='"Liberation Serif", serif' stroke="#111" stroke-width="0.07">1.5</text>
<text x="257.2" y="55.9" font-size="7.3" text-anchor="end" font-family='"Liberation Serif", serif' stroke="#111" stroke-width="0.07">2</text>
<text x="257.2" y="31" font-size="7.3" text-anchor="end" font-family='"Liberation Serif", serif' stroke="#111" stroke-width="0.07">2.5</text>
<text x="257.2" y="6.1" font-size="7.3" text-anchor="end" font-family='"Liberation Serif", serif' stroke="#111" stroke-width="0.07">3</text>
<text x="365.9" y="167" font-family='"Liberation Serif", serif' font-size="9.0" text-anchor="middle" stroke="#111" stroke-width="0.15">depth (mm H<tspan font-size="5.40" dy="2.97">2</tspan><tspan dy="-2.97">O)</tspan></text>
<text x="0" y="0" transform="translate(243.6 78.6) rotate(-90)" font-family='"Liberation Serif", serif' font-size="8.85" text-anchor="middle" stroke="#111" stroke-width="0.15">Dose (Gy RBE)</text>
<text x="286" y="89.9" font-size="12.8" text-anchor="middle" font-family='"Liberation Sans", sans-serif' stroke="#111" stroke-width="0.35">B</text>
<text x="266.9" y="29.3" font-size="7.75" text-anchor="start" font-family='"Liberation Serif", serif' stroke="#111" stroke-width="0.15">α/β(target)=2;</text>
<text x="266.9" y="37.3" font-size="7.75" text-anchor="start" font-family='"Liberation Serif", serif' stroke="#111" stroke-width="0.15">α/β(NT)=2</text>
<rect x="408.4" y="14.1" width="29.9" height="40.8" fill="#fff" stroke="#777" stroke-width="0.85"/>
<path d="M411 18.5H419" stroke="#111" stroke-width="1.0" opacity="0.75"/>
<text x="423.5" y="20.5" font-family='"Liberation Serif", serif' font-size="7.6" stroke="#111" stroke-width="0.15">p</text>
<path d="M411 27.7H419" stroke="#20d020" stroke-width="1.0" opacity="0.75"/>
<text x="423.5" y="32.7" font-family='"Liberation Serif", serif' font-size="7.6" stroke="#111" stroke-width="0.15"><tspan font-size="4.86" dy="-4.56" stroke-width="0.07">4</tspan><tspan dy="4.56">He</tspan></text>
<path d="M411 38.2H419" stroke="#ee2020" stroke-width="1.0" opacity="0.75"/>
<text x="423.5" y="43.1" font-family='"Liberation Serif", serif' font-size="7.6" stroke="#111" stroke-width="0.15"><tspan font-size="4.86" dy="-4.56" stroke-width="0.07">12</tspan><tspan dy="4.56">C</tspan></text>
<path d="M411 48.1H419" stroke="#2020ee" stroke-width="1.0" opacity="0.75"/>
<text x="423.5" y="53" font-family='"Liberation Serif", serif' font-size="7.6" stroke="#111" stroke-width="0.15"><tspan font-size="4.86" dy="-4.56" stroke-width="0.07">16</tspan><tspan dy="4.56">O</tspan></text>
<polyline points="21.6,302.9 26,302.7 30.3,302.5 34.7,302.3 39,302 43.4,301.7 47.7,301.3 52,300.9 56.4,300.4 60.7,299.8 65.1,299.1 69.4,298.3 73.7,297.4 78.1,296.3 82.4,295 86.8,293.5 86.9,293.5 87,293.4 87.2,293.4 87.3,293.3 87.4,293.3 87.5,293.2 87.7,293.2 87.8,293.1 87.9,293.1 88.1,293 88.2,293 88.3,292.9 88.5,292.9 88.6,292.8 88.7,292.8 88.8,292.7 89,292.7 89.1,292.6 89.2,292.6 89.4,292.5 89.5,292.5 89.6,292.4 89.8,292.4 89.9,292.3 90,292.3 90.1,292.2 90.3,292.2 90.4,292.1 90.5,292 90.7,292 90.8,291.9 90.9,291.9 91.1,291.8 91.2,291.8 91.3,291.7 91.4,291.6 91.6,291.6 91.7,291.5 91.8,291.5 92,291.4 92.1,291.4 92.2,291.3 92.4,291.2 92.5,291.2 92.6,291.1 92.7,291.1 92.9,291 93,290.9 93.1,290.9 93.3,290.8 93.4,290.8 93.5,290.7 93.7,290.6 93.8,290.6 93.9,290.5 94.1,290.5 94.2,290.4 94.3,290.3 94.4,290.3 94.6,290.2 94.7,290.1 94.8,290.1 95,290 95.1,289.9 95.2,289.9 95.4,289.8 95.5,289.7 95.6,289.7 95.7,289.6 95.9,289.5 96,289.5 96.1,289.4 96.3,289.4 96.4,289.3 96.5,289.3 96.7,289.2 96.8,289.1 96.9,289.1 97,289.1 97.2,289 97.3,289 97.4,288.9 97.6,288.9 97.7,288.8 97.8,288.8 98,288.8 98.1,288.7 98.2,288.7 98.3,288.6 98.5,288.6 98.6,288.5 98.7,288.5 98.9,288.5 99,288.4 99.1,288.4 99.3,288.3 99.4,288.3 99.5,288.2 99.7,288.2 99.8,288.1 99.9,288.1 100,288 100.2,287.9 100.3,287.9 100.4,287.8 100.6,287.7 100.7,287.7 100.8,287.6 101,287.5 101.1,287.4 101.2,287.3 101.3,287.2 101.5,287.1 101.6,287 101.7,286.9 101.9,286.8 102,286.7 102.1,286.6 102.3,286.4 102.4,286.3 102.5,286.2 102.6,286 102.8,285.9 102.9,285.7 103,285.5 103.2,285.4 103.3,285.2 103.4,284.8 103.6,284.2 103.7,283.3 103.8,282.2 103.9,281 104.1,279.5 104.2,278 104.3,276.4 104.5,274.4 104.6,271.8 104.7,268.7 104.9,265.4 105,261.8 105.1,258.4 105.3,255.1 105.4,252.1 105.5,249.4 105.6,246.6 105.8,243.9 105.9,241.3 106,238.9 106.2,236.8 106.3,235.1 106.4,233.7 106.6,232.3 106.7,231 106.8,229.8 106.9,228.8 107.1,227.9 107.2,227.3 107.3,226.9 107.5,226.6 107.6,226.4 107.7,226.2 107.9,226 108,225.8 108.1,225.7 108.2,225.5 108.4,225.5 108.5,225.4 108.6,224.7 108.8,224.7 108.9,224.7 109,224.8 109.2,224.8 109.3,224.9 109.4,225 109.5,225.1 109.7,225.2 109.8,225.3 109.9,225.4 110.1,225.5 110.2,225.6 110.3,225.7 110.5,225.8 110.6,225.9 110.7,226 110.8,226 111,226.1 111.1,226.1 111.2,226.1 111.4,226.1 111.5,226.1 111.6,226 111.8,226 111.9,225.9 112,225.8 112.2,225.7 112.3,225.6 112.4,225.5 112.5,225.4 112.7,225.3 112.8,225.2 112.9,225.1 113.1,225 113.2,224.9 113.3,224.8 113.5,224.8 113.6,224.7 113.7,224.7 113.8,224.7 114,224.7 114.1,224.7 114.2,224.8 114.4,224.8 114.5,224.9 114.6,225 114.8,225.1 114.9,225.2 115,225.3 115.1,225.4 115.3,225.5 115.4,225.6 115.5,225.7 115.7,225.8 115.8,225.9 115.9,226 116.1,226 116.2,226.1 116.3,226.1 116.4,226.1 116.6,226.1 116.7,226.1 116.8,226 117,226 117.1,225.9 117.2,225.8 117.4,225.7 117.5,225.6 117.6,225.5 117.8,225.4 117.9,225.3 118,225.2 118.1,225.1 118.3,225 118.4,224.9 118.5,224.8 118.7,224.8 118.8,224.7 118.9,224.7 119.1,224.7 119.2,224.7 119.3,224.7 119.4,224.8 119.6,224.8 119.7,224.9 119.8,225 120,225.1 120.1,225.2 120.2,225.3 120.4,225.4 120.5,225.5 120.6,225.6 120.7,225.7 120.9,225.8 121,225.9 121.1,226 121.3,226 121.4,226.1 121.5,226.1 121.7,226.1 121.8,226.1 121.9,226.1 122,226 122.2,226 122.3,225.9 122.4,225.8 122.6,225.7 122.7,225.6 122.8,225.5 123,225.4 123.1,225.3 123.2,225.2 123.4,225.1 123.5,225 123.6,224.9 123.7,224.8 123.9,224.8 124,224.7 124.1,224.7 124.3,224.7 124.4,224.7 124.5,224.7 124.7,224.8 124.8,224.8 124.9,224.9 125,225 125.2,225.1 125.3,225.2 125.4,225.3 125.6,225.4 125.7,225.5 125.8,225.6 126,225.5 126.1,225.4 126.2,225.3 126.3,225.2 126.5,225.1 126.6,225 126.7,224.9 126.9,224.8 127,224.8 127.1,224.7 127.3,224.7 127.4,224.7 127.5,224.7 127.6,224.7 127.8,224.8 127.9,224.8 128,224.9 128.2,225 128.3,225.1 128.4,225.2 128.6,225.3 128.7,225.4 128.8,225.5 129,225.6 129.1,225.7 129.2,225.8 129.3,225.9 129.5,226 129.6,226 129.7,226.1 129.9,226.1 130,226.1 130.1,226.1 130.3,226.1 130.4,226 130.5,226 130.6,225.9 130.8,225.8 130.9,225.7 131,225.6 131.2,225.5 131.3,225.4 131.4,225.3 131.6,225.2 131.7,225.1 131.8,225 131.9,224.9 132.1,224.8 132.2,224.8 132.3,224.7 132.5,224.7 132.6,224.7 132.7,224.7 132.9,224.7 133,224.8 133.1,224.8 133.2,224.9 133.4,225 133.5,225.1 133.6,225.2 133.8,225.3 133.9,225.4 134,225.5 134.2,225.6 134.3,225.7 134.4,225.8 134.5,225.9 134.7,226 134.8,226 134.9,226.1 135.1,226.1 135.2,226.1 135.3,226.1 135.5,226.1 135.6,226 135.7,226 135.9,225.9 136,225.8 136.1,225.7 136.2,225.6 136.4,225.5 136.5,225.4 136.6,225.3 136.8,225.2 136.9,225.1 137,225 137.2,224.9 137.3,224.8 137.4,224.8 137.5,224.7 137.7,224.7 137.8,224.7 137.9,224.7 138.1,224.7 138.2,224.8 138.3,224.8 138.5,224.9 138.6,225 138.7,225.1 138.8,225.2 139,225.3 139.1,225.4 139.2,225.5 139.4,225.6 139.5,225.7 139.6,225.8 139.8,225.9 139.9,226 140,226 140.1,226.1 140.3,226.1 140.4,226.1 140.5,226.1 140.7,226.1 140.8,226 140.9,226 141.1,225.9 141.2,225.8 141.3,225.7 141.5,225.6 141.6,225.5 141.7,225.4 141.8,225.3 142,225.2 142.1,225.1 142.2,225 142.4,224.9 142.5,224.8 142.6,224.8 142.8,224.7 142.9,224.7 143,225.4 143.1,225.4 143.3,225.5 143.4,225.5 143.5,225.7 143.7,225.8 143.8,226 143.9,226.2 144.1,226.4 144.2,226.6 144.3,226.9 144.4,227.3 144.6,227.9 144.7,228.8 144.8,229.8 145,231 145.1,232.3 145.2,233.7 145.4,235.1 145.5,236.8 145.6,238.9 145.7,241.3 145.9,243.9 146,246.6 146.1,249.4 146.3,252.1 146.4,255.1 146.5,258.4 146.7,261.8 146.8,265.4 146.9,268.7 147.1,271.8 147.2,274.4 147.3,276.4 147.4,278 147.6,279.5 147.7,281 147.8,282.2 148,283.3 148.1,284.2 148.2,284.8 148.4,285.2 148.5,285.4 148.6,285.5 148.7,285.7 148.9,285.9 149,286 149.1,286.2 149.3,286.3 149.4,286.4 149.5,286.6 149.7,286.7 149.8,286.8 149.9,286.9 150,287 150.2,287.1 150.3,287.2 150.4,287.3 150.6,287.4 150.7,287.5 150.8,287.6 151,287.7 151.1,287.7 151.2,287.8 151.3,287.9 151.5,287.9 151.6,288 151.7,288.1 151.9,288.1 152,288.2 152.1,288.2 152.3,288.3 152.4,288.3 152.5,288.4 152.7,288.4 152.8,288.5 152.9,288.5 153,288.5 153.2,288.6 153.3,288.6 153.4,288.7 153.6,288.7 153.7,288.8 153.8,288.8 154,288.8 154.1,288.9 154.2,288.9 154.3,289 154.5,289 154.6,289.1 154.7,289.1 154.9,289.1 155,289.2 155.1,289.3 155.3,289.3 155.4,289.4 155.5,289.4 155.6,289.5 155.8,289.5 155.9,289.6 156,289.7 156.2,289.7 156.3,289.8 156.4,289.9 156.6,289.9 156.7,290 156.8,290.1 156.9,290.1 157.1,290.2 157.2,290.3 157.3,290.3 157.5,290.4 157.6,290.5 157.7,290.5 157.9,290.6 158,290.6 158.1,290.7 158.2,290.8 158.4,290.8 158.5,290.9 158.6,290.9 158.8,291 158.9,291.1 159,291.1 159.2,291.2 159.3,291.2 159.4,291.3 159.6,291.4 159.7,291.4 159.8,291.5 159.9,291.5 160.1,291.6 160.2,291.6 160.3,291.7 160.5,291.8 160.6,291.8 160.7,291.9 160.9,291.9 161,292 161.1,292 161.2,292.1 161.4,292.2 161.5,292.2 161.6,292.3 161.8,292.3 161.9,292.4 162,292.4 162.2,292.5 162.3,292.5 162.4,292.6 162.5,292.6 162.7,292.7 162.8,292.7 162.9,292.8 163.1,292.8 163.2,292.9 163.3,292.9 163.5,293 163.6,293 163.7,293.1 163.8,293.1 164,293.2 164.1,293.2 164.2,293.3 164.4,293.3 164.5,293.4 164.6,293.4 164.8,293.5 164.9,293.5 169.2,295 173.6,296.3 177.9,297.4 182.3,298.3 186.6,299.1 190.9,299.8 195.3,300.4 199.6,300.9 204,301.3 208.3,301.7 212.6,302 217,302.3 221.3,302.5 225.7,302.7 230,302.9" fill="none" stroke="#111" stroke-width="1.2" stroke-linejoin="round" />
<polyline points="21.6,305.3 26,305 30.3,304.8 34.7,304.5 39,304.1 43.4,303.7 47.7,303.2 52,302.6 56.4,301.9 60.7,301.1 65.1,300.2 69.4,299.1 73.7,297.8 78.1,296.2 82.4,294.4 86.8,292.2 86.9,292.2 87,292.1 87.2,292 87.3,292 87.4,291.9 87.5,291.8 87.7,291.7 87.8,291.7 87.9,291.6 88.1,291.5 88.2,291.4 88.3,291.4 88.5,291.3 88.6,291.2 88.7,291.2 88.8,291.1 89,291 89.1,290.9 89.2,290.8 89.4,290.8 89.5,290.7 89.6,290.6 89.8,290.5 89.9,290.5 90,290.4 90.1,290.3 90.3,290.2 90.4,290.1 90.5,290.1 90.7,290 90.8,289.9 90.9,289.8 91.1,289.7 91.2,289.7 91.3,289.6 91.4,289.5 91.6,289.4 91.7,289.3 91.8,289.2 92,289.2 92.1,289.1 92.2,289 92.4,288.9 92.5,288.8 92.6,288.7 92.7,288.6 92.9,288.5 93,288.5 93.1,288.4 93.3,288.3 93.4,288.2 93.5,288.1 93.7,288 93.8,287.9 93.9,287.8 94.1,287.7 94.2,287.6 94.3,287.6 94.4,287.5 94.6,287.4 94.7,287.3 94.8,287.2 95,287.1 95.1,287 95.2,286.9 95.4,286.8 95.5,286.7 95.6,286.6 95.7,286.5 95.9,286.4 96,286.3 96.1,286.2 96.3,286.1 96.4,286 96.5,285.9 96.7,285.8 96.8,285.7 96.9,285.6 97,285.5 97.2,285.4 97.3,285.3 97.4,285.2 97.6,285.2 97.7,285.1 97.8,285 98,284.9 98.1,284.8 98.2,284.8 98.3,284.7 98.5,284.6 98.6,284.5 98.7,284.5 98.9,284.4 99,284.3 99.1,284.3 99.3,284.2 99.4,284.1 99.5,284 99.7,284 99.8,283.9 99.9,283.8 100,283.7 100.2,283.7 100.3,283.6 100.4,283.5 100.6,283.4 100.7,283.3 100.8,283.2 101,283.1 101.1,283 101.2,282.9 101.3,282.8 101.5,282.7 101.6,282.6 101.7,282.5 101.9,282.4 102,282.3 102.1,282.1 102.3,282 102.4,281.8 102.5,281.7 102.6,281.5 102.8,281.4 102.9,281.2 103,281 103.2,280.8 103.3,280.7 103.4,280.5 103.6,280.3 103.7,280.1 103.8,279.8 103.9,279.6 104.1,279.4 104.2,279.1 104.3,278.9 104.5,278.5 104.6,278.1 104.7,277.4 104.9,276.7 105,275.8 105.1,274.7 105.3,273.5 105.4,272.2 105.5,270.7 105.6,269.1 105.8,266.5 105.9,262.6 106,257.9 106.2,253.4 106.3,249.7 106.4,246.7 106.6,243.7 106.7,240.9 106.8,238.3 106.9,236 107.1,234.1 107.2,232.7 107.3,231.6 107.5,230.6 107.6,229.7 107.7,228.8 107.9,228.1 108,227.6 108.1,227.1 108.2,226.9 108.4,226.7 108.5,226.5 108.6,226.3 108.8,226.2 108.9,226 109,226 109.2,225.9 109.3,225.5 109.4,225.6 109.5,225.7 109.7,225.8 109.8,225.9 109.9,226 110.1,226.2 110.2,226.3 110.3,226.3 110.5,226.4 110.6,226.5 110.7,226.6 110.8,226.6 111,226.6 111.1,226.6 111.2,226.6 111.4,226.6 111.5,226.5 111.6,226.5 111.8,226.4 111.9,226.3 112,226.2 112.2,226.1 112.3,226 112.4,225.8 112.5,225.7 112.7,225.6 112.8,225.5 112.9,225.4 113.1,225.3 113.2,225.3 113.3,225.2 113.5,225.2 113.6,225.2 113.7,225.2 113.8,225.2 114,225.2 114.1,225.3 114.2,225.3 114.4,225.4 114.5,225.5 114.6,225.6 114.8,225.7 114.9,225.8 115,225.9 115.1,226 115.3,226.2 115.4,226.3 115.5,226.3 115.7,226.4 115.8,226.5 115.9,226.6 116.1,226.6 116.2,226.6 116.3,226.6 116.4,226.6 116.6,226.6 116.7,226.5 116.8,226.5 117,226.4 117.1,226.3 117.2,226.2 117.4,226.1 117.5,226 117.6,225.8 117.8,225.7 117.9,225.6 118,225.5 118.1,225.4 118.3,225.3 118.4,225.3 118.5,225.2 118.7,225.2 118.8,225.2 118.9,225.2 119.1,225.2 119.2,225.2 119.3,225.3 119.4,225.3 119.6,225.4 119.7,225.5 119.8,225.6 120,225.7 120.1,225.8 120.2,225.9 120.4,226 120.5,226.2 120.6,226.3 120.7,226.3 120.9,226.4 121,226.5 121.1,226.6 121.3,226.6 121.4,226.6 121.5,226.6 121.7,226.6 121.8,226.6 121.9,226.5 122,226.5 122.2,226.4 122.3,226.3 122.4,226.2 122.6,226.1 122.7,226 122.8,225.8 123,225.7 123.1,225.6 123.2,225.5 123.4,225.4 123.5,225.3 123.6,225.3 123.7,225.2 123.9,225.2 124,225.2 124.1,225.2 124.3,225.2 124.4,225.2 124.5,225.3 124.7,225.3 124.8,225.4 124.9,225.5 125,225.6 125.2,225.7 125.3,225.8 125.4,225.9 125.6,226 125.7,226.2 125.8,226.3 126,226.2 126.1,226 126.2,225.9 126.3,225.8 126.5,225.7 126.6,225.6 126.7,225.5 126.9,225.4 127,225.3 127.1,225.3 127.3,225.2 127.4,225.2 127.5,225.2 127.6,225.2 127.8,225.2 127.9,225.2 128,225.3 128.2,225.3 128.3,225.4 128.4,225.5 128.6,225.6 128.7,225.7 128.8,225.8 129,226 129.1,226.1 129.2,226.2 129.3,226.3 129.5,226.4 129.6,226.5 129.7,226.5 129.9,226.6 130,226.6 130.1,226.6 130.3,226.6 130.4,226.6 130.5,226.6 130.6,226.5 130.8,226.4 130.9,226.3 131,226.3 131.2,226.2 131.3,226 131.4,225.9 131.6,225.8 131.7,225.7 131.8,225.6 131.9,225.5 132.1,225.4 132.2,225.3 132.3,225.3 132.5,225.2 132.6,225.2 132.7,225.2 132.9,225.2 133,225.2 133.1,225.2 133.2,225.3 133.4,225.3 133.5,225.4 133.6,225.5 133.8,225.6 133.9,225.7 134,225.8 134.2,226 134.3,226.1 134.4,226.2 134.5,226.3 134.7,226.4 134.8,226.5 134.9,226.5 135.1,226.6 135.2,226.6 135.3,226.6 135.5,226.6 135.6,226.6 135.7,226.6 135.9,226.5 136,226.4 136.1,226.3 136.2,226.3 136.4,226.2 136.5,226 136.6,225.9 136.8,225.8 136.9,225.7 137,225.6 137.2,225.5 137.3,225.4 137.4,225.3 137.5,225.3 137.7,225.2 137.8,225.2 137.9,225.2 138.1,225.2 138.2,225.2 138.3,225.2 138.5,225.3 138.6,225.3 138.7,225.4 138.8,225.5 139,225.6 139.1,225.7 139.2,225.8 139.4,226 139.5,226.1 139.6,226.2 139.8,226.3 139.9,226.4 140,226.5 140.1,226.5 140.3,226.6 140.4,226.6 140.5,226.6 140.7,226.6 140.8,226.6 140.9,226.6 141.1,226.5 141.2,226.4 141.3,226.3 141.5,226.3 141.6,226.2 141.7,226 141.8,225.9 142,225.8 142.1,225.7 142.2,225.6 142.4,225.9 142.5,225.9 142.6,226 142.8,226 142.9,226.2 143,226.3 143.1,226.5 143.3,226.7 143.4,226.9 143.5,227.1 143.7,227.6 143.8,228.1 143.9,228.8 144.1,229.7 144.2,230.6 144.3,231.6 144.4,232.7 144.6,234.1 144.7,236 144.8,238.3 145,240.9 145.1,243.7 145.2,246.7 145.4,249.7 145.5,253.4 145.6,257.9 145.7,262.6 145.9,266.5 146,269.1 146.1,270.7 146.3,272.2 146.4,273.5 146.5,274.7 146.7,275.8 146.8,276.7 146.9,277.4 147.1,278.1 147.2,278.5 147.3,278.9 147.4,279.1 147.6,279.4 147.7,279.6 147.8,279.8 148,280.1 148.1,280.3 148.2,280.5 148.4,280.7 148.5,280.8 148.6,281 148.7,281.2 148.9,281.4 149,281.5 149.1,281.7 149.3,281.8 149.4,282 149.5,282.1 149.7,282.3 149.8,282.4 149.9,282.5 150,282.6 150.2,282.7 150.3,282.8 150.4,282.9 150.6,283 150.7,283.1 150.8,283.2 151,283.3 151.1,283.4 151.2,283.5 151.3,283.6 151.5,283.7 151.6,283.7 151.7,283.8 151.9,283.9 152,284 152.1,284 152.3,284.1 152.4,284.2 152.5,284.3 152.7,284.3 152.8,284.4 152.9,284.5 153,284.5 153.2,284.6 153.3,284.7 153.4,284.8 153.6,284.8 153.7,284.9 153.8,285 154,285.1 154.1,285.2 154.2,285.2 154.3,285.3 154.5,285.4 154.6,285.5 154.7,285.6 154.9,285.7 155,285.8 155.1,285.9 155.3,286 155.4,286.1 155.5,286.2 155.6,286.3 155.8,286.4 155.9,286.5 156,286.6 156.2,286.7 156.3,286.8 156.4,286.9 156.6,287 156.7,287.1 156.8,287.2 156.9,287.3 157.1,287.4 157.2,287.5 157.3,287.6 157.5,287.6 157.6,287.7 157.7,287.8 157.9,287.9 158,288 158.1,288.1 158.2,288.2 158.4,288.3 158.5,288.4 158.6,288.5 158.8,288.5 158.9,288.6 159,288.7 159.2,288.8 159.3,288.9 159.4,289 159.6,289.1 159.7,289.2 159.8,289.2 159.9,289.3 160.1,289.4 160.2,289.5 160.3,289.6 160.5,289.7 160.6,289.7 160.7,289.8 160.9,289.9 161,290 161.1,290.1 161.2,290.1 161.4,290.2 161.5,290.3 161.6,290.4 161.8,290.5 161.9,290.5 162,290.6 162.2,290.7 162.3,290.8 162.4,290.8 162.5,290.9 162.7,291 162.8,291.1 162.9,291.2 163.1,291.2 163.2,291.3 163.3,291.4 163.5,291.4 163.6,291.5 163.7,291.6 163.8,291.7 164,291.7 164.1,291.8 164.2,291.9 164.4,292 164.5,292 164.6,292.1 164.8,292.2 164.9,292.2 169.2,294.4 173.6,296.2 177.9,297.8 182.3,299.1 186.6,300.2 190.9,301.1 195.3,301.9 199.6,302.6 204,303.2 208.3,303.7 212.6,304.1 217,304.5 221.3,304.8 225.7,305 230,305.3" fill="none" stroke="#20d020" stroke-width="1.2" stroke-linejoin="round" />
<polyline points="21.6,298.6 26,298.2 30.3,297.7 34.7,297.2 39,296.6 43.4,296 47.7,295.3 52,294.5 56.4,293.7 60.7,292.7 65.1,291.6 69.4,290.3 73.7,288.8 78.1,287 82.4,284.9 86.8,282.3 86.9,282.3 87,282.2 87.2,282.1 87.3,282 87.4,281.9 87.5,281.8 87.7,281.7 87.8,281.6 87.9,281.6 88.1,281.5 88.2,281.4 88.3,281.3 88.5,281.2 88.6,281.1 88.7,281 88.8,280.9 89,280.8 89.1,280.7 89.2,280.6 89.4,280.5 89.5,280.4 89.6,280.3 89.8,280.2 89.9,280.1 90,280 90.1,279.9 90.3,279.8 90.4,279.7 90.5,279.6 90.7,279.5 90.8,279.4 90.9,279.3 91.1,279.2 91.2,279.1 91.3,279 91.4,278.9 91.6,278.8 91.7,278.7 91.8,278.5 92,278.4 92.1,278.3 92.2,278.2 92.4,278.1 92.5,278 92.6,277.9 92.7,277.7 92.9,277.6 93,277.5 93.1,277.4 93.3,277.3 93.4,277.1 93.5,277 93.7,276.9 93.8,276.8 93.9,276.6 94.1,276.5 94.2,276.4 94.3,276.3 94.4,276.1 94.6,276 94.7,275.9 94.8,275.7 95,275.6 95.1,275.5 95.2,275.3 95.4,275.2 95.5,275 95.6,274.9 95.7,274.8 95.9,274.6 96,274.5 96.1,274.3 96.3,274.2 96.4,274 96.5,273.9 96.7,273.7 96.8,273.6 96.9,273.4 97,273.3 97.2,273.1 97.3,273 97.4,272.9 97.6,272.7 97.7,272.6 97.8,272.4 98,272.3 98.1,272.1 98.2,272 98.3,271.9 98.5,271.7 98.6,271.6 98.7,271.4 98.9,271.3 99,271.2 99.1,271 99.3,270.9 99.4,270.7 99.5,270.6 99.7,270.4 99.8,270.3 99.9,270.1 100,269.9 100.2,269.8 100.3,269.6 100.4,269.5 100.6,269.3 100.7,269.1 100.8,268.9 101,268.7 101.1,268.6 101.2,268.4 101.3,268.2 101.5,268 101.6,267.8 101.7,267.5 101.9,267.3 102,267.1 102.1,266.9 102.3,266.6 102.4,266.4 102.5,266.1 102.6,265.9 102.8,265.6 102.9,265.4 103,265.1 103.2,264.8 103.3,264.5 103.4,264.2 103.6,263.9 103.7,263.6 103.8,263.2 103.9,262.9 104.1,262.6 104.2,262.2 104.3,261.9 104.5,261.5 104.6,261 104.7,260.5 104.9,259.9 105,259.3 105.1,258.6 105.3,257.8 105.4,257 105.5,256 105.6,255.1 105.8,254 105.9,252.9 106,251.6 106.2,250.1 106.3,248 106.4,245.6 106.6,242.9 106.7,240.2 106.8,237.5 106.9,234.9 107.1,232.2 107.2,229.3 107.3,226.4 107.5,223.5 107.6,220.5 107.7,217.1 107.9,213.1 108,209.4 108.1,206.6 108.2,205.5 108.4,207 108.5,210.6 108.6,214.8 108.8,218.1 108.9,220.5 109,222.9 109.2,224.7 109.3,225.4 109.4,225.4 109.5,225.4 109.7,225.4 109.8,225.4 109.9,225.3 110.1,225.3 110.2,225.2 110.3,225.2 110.5,225 110.6,225.2 110.7,225.3 110.8,225.4 111,225.5 111.1,225.5 111.2,225.6 111.4,225.6 111.5,225.6 111.6,225.6 111.8,225.6 111.9,225.6 112,225.5 112.2,225.5 112.3,225.4 112.4,225.3 112.5,225.2 112.7,225.1 112.8,224.9 112.9,224.8 113.1,224.7 113.2,224.6 113.3,224.5 113.5,224.4 113.6,224.3 113.7,224.3 113.8,224.2 114,224.2 114.1,224.2 114.2,224.2 114.4,224.2 114.5,224.3 114.6,224.3 114.8,224.4 114.9,224.5 115,224.6 115.1,224.7 115.3,224.8 115.4,224.9 115.5,225 115.7,225.1 115.8,225.2 115.9,225.3 116.1,225.4 116.2,225.5 116.3,225.5 116.4,225.6 116.6,225.6 116.7,225.6 116.8,225.6 117,225.6 117.1,225.6 117.2,225.5 117.4,225.5 117.5,225.4 117.6,225.3 117.8,225.2 117.9,225.1 118,224.9 118.1,224.8 118.3,224.7 118.4,224.6 118.5,224.5 118.7,224.4 118.8,224.3 118.9,224.3 119.1,224.2 119.2,224.2 119.3,224.2 119.4,224.2 119.6,224.2 119.7,224.3 119.8,224.3 120,224.4 120.1,224.5 120.2,224.6 120.4,224.7 120.5,224.8 120.6,224.9 120.7,225 120.9,225.1 121,225.2 121.1,225.3 121.3,225.4 121.4,225.5 121.5,225.5 121.7,225.6 121.8,225.6 121.9,225.6 122,225.6 122.2,225.6 122.3,225.6 122.4,225.5 122.6,225.5 122.7,225.4 122.8,225.3 123,225.2 123.1,225.1 123.2,224.9 123.4,224.8 123.5,224.7 123.6,224.6 123.7,224.5 123.9,224.4 124,224.3 124.1,224.3 124.3,224.2 124.4,224.2 124.5,224.2 124.7,224.2 124.8,224.2 124.9,224.3 125,224.3 125.2,224.4 125.3,224.5 125.4,224.6 125.6,224.7 125.7,224.8 125.8,224.9 126,224.8 126.1,224.7 126.2,224.6 126.3,224.5 126.5,224.4 126.6,224.3 126.7,224.3 126.9,224.2 127,224.2 127.1,224.2 127.3,224.2 127.4,224.2 127.5,224.3 127.6,224.3 127.8,224.4 127.9,224.5 128,224.6 128.2,224.7 128.3,224.8 128.4,224.9 128.6,225.1 128.7,225.2 128.8,225.3 129,225.4 129.1,225.5 129.2,225.5 129.3,225.6 129.5,225.6 129.6,225.6 129.7,225.6 129.9,225.6 130,225.6 130.1,225.5 130.3,225.5 130.4,225.4 130.5,225.3 130.6,225.2 130.8,225.1 130.9,225 131,224.9 131.2,224.8 131.3,224.7 131.4,224.6 131.6,224.5 131.7,224.4 131.8,224.3 131.9,224.3 132.1,224.2 132.2,224.2 132.3,224.2 132.5,224.2 132.6,224.2 132.7,224.3 132.9,224.3 133,224.4 133.1,224.5 133.2,224.6 133.4,224.7 133.5,224.8 133.6,224.9 133.8,225.1 133.9,225.2 134,225.3 134.2,225.4 134.3,225.5 134.4,225.5 134.5,225.6 134.7,225.6 134.8,225.6 134.9,225.6 135.1,225.6 135.2,225.6 135.3,225.5 135.5,225.5 135.6,225.4 135.7,225.3 135.9,225.2 136,225.1 136.1,225 136.2,224.9 136.4,224.8 136.5,224.7 136.6,224.6 136.8,224.5 136.9,224.4 137,224.3 137.2,224.3 137.3,224.2 137.4,224.2 137.5,224.2 137.7,224.2 137.8,224.2 137.9,224.3 138.1,224.3 138.2,224.4 138.3,224.5 138.5,224.6 138.6,224.7 138.7,224.8 138.8,224.9 139,225.1 139.1,225.2 139.2,225.3 139.4,225.4 139.5,225.5 139.6,225.5 139.8,225.6 139.9,225.6 140,225.6 140.1,225.6 140.3,225.6 140.4,225.6 140.5,225.5 140.7,225.5 140.8,225.4 140.9,225.3 141.1,224.9 141.2,225 141.3,225.2 141.5,225.2 141.6,225.3 141.7,225.3 141.8,225.4 142,225.4 142.1,225.4 142.2,225.4 142.4,225.4 142.5,224.7 142.6,222.9 142.8,220.5 142.9,218.1 143,214.8 143.1,210.6 143.3,207 143.4,205.5 143.5,206.6 143.7,209.4 143.8,213.1 143.9,217.1 144.1,220.5 144.2,223.5 144.3,226.4 144.4,229.3 144.6,232.2 144.7,234.9 144.8,237.6 145,240.2 145.1,242.9 145.2,245.6 145.4,248 145.5,250.1 145.6,251.6 145.7,252.9 145.9,254 146,255.1 146.1,256 146.3,257 146.4,257.8 146.5,258.6 146.7,259.3 146.8,259.9 146.9,260.5 147.1,261 147.2,261.5 147.3,261.9 147.4,262.2 147.6,262.6 147.7,262.9 147.8,263.2 148,263.6 148.1,263.9 148.2,264.2 148.4,264.5 148.5,264.8 148.6,265.1 148.7,265.4 148.9,265.6 149,265.9 149.1,266.1 149.3,266.4 149.4,266.6 149.5,266.9 149.7,267.1 149.8,267.3 149.9,267.5 150,267.8 150.2,268 150.3,268.2 150.4,268.4 150.6,268.6 150.7,268.7 150.8,268.9 151,269.1 151.1,269.3 151.2,269.5 151.3,269.6 151.5,269.8 151.6,269.9 151.7,270.1 151.9,270.3 152,270.4 152.1,270.6 152.3,270.7 152.4,270.9 152.5,271 152.7,271.2 152.8,271.3 152.9,271.4 153,271.6 153.2,271.7 153.3,271.9 153.4,272 153.6,272.1 153.7,272.3 153.8,272.4 154,272.6 154.1,272.7 154.2,272.9 154.3,273 154.5,273.1 154.6,273.3 154.7,273.4 154.9,273.6 155,273.7 155.1,273.9 155.3,274 155.4,274.2 155.5,274.3 155.6,274.5 155.8,274.6 155.9,274.8 156,274.9 156.2,275 156.3,275.2 156.4,275.3 156.6,275.5 156.7,275.6 156.8,275.7 156.9,275.9 157.1,276 157.2,276.1 157.3,276.3 157.5,276.4 157.6,276.5 157.7,276.6 157.9,276.8 158,276.9 158.1,277 158.2,277.1 158.4,277.3 158.5,277.4 158.6,277.5 158.8,277.6 158.9,277.7 159,277.9 159.2,278 159.3,278.1 159.4,278.2 159.6,278.3 159.7,278.4 159.8,278.5 159.9,278.7 160.1,278.8 160.2,278.9 160.3,279 160.5,279.1 160.6,279.2 160.7,279.3 160.9,279.4 161,279.5 161.1,279.6 161.2,279.7 161.4,279.8 161.5,279.9 161.6,280 161.8,280.1 161.9,280.2 162,280.3 162.2,280.4 162.3,280.5 162.4,280.6 162.5,280.7 162.7,280.8 162.8,280.9 162.9,281 163.1,281.1 163.2,281.2 163.3,281.3 163.5,281.4 163.6,281.5 163.7,281.6 163.8,281.6 164,281.7 164.1,281.8 164.2,281.9 164.4,282 164.5,282.1 164.6,282.2 164.8,282.3 164.9,282.3 169.2,284.9 173.6,287 177.9,288.8 182.3,290.3 186.6,291.6 190.9,292.7 195.3,293.7 199.6,294.5 204,295.3 208.3,296 212.6,296.6 217,297.2 221.3,297.7 225.7,298.2 230,298.6" fill="none" stroke="#ee2020" stroke-width="1.2" stroke-linejoin="round" />
<polyline points="21.6,293.8 26,293.4 30.3,293 34.7,292.5 39,292 43.4,291.5 47.7,290.9 52,290.2 56.4,289.4 60.7,288.5 65.1,287.5 69.4,286.3 73.7,284.9 78.1,283.2 82.4,281.1 86.8,278.6 86.9,278.5 87,278.4 87.2,278.3 87.3,278.2 87.4,278.1 87.5,278 87.7,277.9 87.8,277.9 87.9,277.8 88.1,277.7 88.2,277.6 88.3,277.5 88.5,277.4 88.6,277.3 88.7,277.2 88.8,277.1 89,277 89.1,276.9 89.2,276.8 89.4,276.7 89.5,276.6 89.6,276.5 89.8,276.4 89.9,276.3 90,276.2 90.1,276.1 90.3,276 90.4,275.9 90.5,275.8 90.7,275.7 90.8,275.6 90.9,275.4 91.1,275.3 91.2,275.2 91.3,275.1 91.4,275 91.6,274.9 91.7,274.8 91.8,274.7 92,274.5 92.1,274.4 92.2,274.3 92.4,274.2 92.5,274.1 92.6,273.9 92.7,273.8 92.9,273.7 93,273.6 93.1,273.4 93.3,273.3 93.4,273.2 93.5,273 93.7,272.9 93.8,272.8 93.9,272.6 94.1,272.5 94.2,272.4 94.3,272.2 94.4,272.1 94.6,271.9 94.7,271.8 94.8,271.7 95,271.5 95.1,271.4 95.2,271.2 95.4,271.1 95.5,270.9 95.6,270.8 95.7,270.6 95.9,270.5 96,270.3 96.1,270.1 96.3,270 96.4,269.8 96.5,269.7 96.7,269.5 96.8,269.3 96.9,269.2 97,269 97.2,268.8 97.3,268.6 97.4,268.5 97.6,268.3 97.7,268.1 97.8,268 98,267.8 98.1,267.6 98.2,267.5 98.3,267.3 98.5,267.1 98.6,266.9 98.7,266.7 98.9,266.6 99,266.4 99.1,266.2 99.3,266 99.4,265.8 99.5,265.6 99.7,265.4 99.8,265.2 99.9,265 100,264.8 100.2,264.6 100.3,264.4 100.4,264.2 100.6,264 100.7,263.8 100.8,263.5 101,263.3 101.1,263.1 101.2,262.8 101.3,262.6 101.5,262.4 101.6,262.1 101.7,261.8 101.9,261.6 102,261.3 102.1,261.1 102.3,260.8 102.4,260.5 102.5,260.2 102.6,259.9 102.8,259.6 102.9,259.3 103,259 103.2,258.7 103.3,258.4 103.4,258 103.6,257.7 103.7,257.4 103.8,257 103.9,256.6 104.1,256.3 104.2,255.9 104.3,255.5 104.5,255.1 104.6,254.8 104.7,254.3 104.9,253.9 105,253.4 105.1,252.9 105.3,252.4 105.4,251.7 105.5,251 105.6,250.2 105.8,249.4 105.9,248.4 106,247.3 106.2,245.5 106.3,242.6 106.4,239.1 106.6,235.2 106.7,231.4 106.8,227.8 106.9,224.6 107.1,221.4 107.2,218.2 107.3,214.9 107.5,211.7 107.6,208.4 107.7,204.5 107.9,200 108,195.8 108.1,192.6 108.2,191.4 108.4,193.7 108.5,199.3 108.6,205.7 108.8,210.8 108.9,214.7 109,218.4 109.2,221.3 109.3,222.5 109.4,222.6 109.5,222.8 109.7,222.9 109.8,223 109.9,223.1 110.1,223.1 110.2,223.2 110.3,223.2 110.5,223.2 110.6,222.6 110.7,222.6 110.8,222.7 111,222.8 111.1,222.9 111.2,223 111.4,223.1 111.5,223.2 111.6,223.3 111.8,223.5 111.9,223.6 112,223.7 112.2,223.7 112.3,223.8 112.4,223.9 112.5,223.9 112.7,223.9 112.8,223.9 112.9,223.9 113.1,223.9 113.2,223.9 113.3,223.8 113.5,223.7 113.6,223.6 113.7,223.5 113.8,223.4 114,223.3 114.1,223.2 114.2,223.1 114.4,223 114.5,222.9 114.6,222.8 114.8,222.7 114.9,222.6 115,222.6 115.1,222.5 115.3,222.5 115.4,222.5 115.5,222.5 115.7,222.5 115.8,222.6 115.9,222.6 116.1,222.7 116.2,222.8 116.3,222.9 116.4,223 116.6,223.1 116.7,223.2 116.8,223.3 117,223.5 117.1,223.6 117.2,223.7 117.4,223.7 117.5,223.8 117.6,223.9 117.8,223.9 117.9,223.9 118,223.9 118.1,223.9 118.3,223.9 118.4,223.9 118.5,223.8 118.7,223.7 118.8,223.6 118.9,223.5 119.1,223.4 119.2,223.3 119.3,223.2 119.4,223.1 119.6,223 119.7,222.9 119.8,222.8 120,222.7 120.1,222.6 120.2,222.6 120.4,222.5 120.5,222.5 120.6,222.5 120.7,222.5 120.9,222.5 121,222.6 121.1,222.6 121.3,222.7 121.4,222.8 121.5,222.9 121.7,223 121.8,223.1 121.9,223.2 122,223.3 122.2,223.5 122.3,223.6 122.4,223.7 122.6,223.7 122.7,223.8 122.8,223.9 123,223.9 123.1,223.9 123.2,223.9 123.4,223.9 123.5,223.9 123.6,223.9 123.7,223.8 123.9,223.7 124,223.6 124.1,223.5 124.3,223.4 124.4,223.3 124.5,223.2 124.7,223.1 124.8,223 124.9,222.9 125,222.8 125.2,222.7 125.3,222.6 125.4,222.6 125.6,222.5 125.7,222.5 125.8,222.5 126,222.5 126.1,222.5 126.2,222.6 126.3,222.6 126.5,222.7 126.6,222.8 126.7,222.9 126.9,223 127,223.1 127.1,223.2 127.3,223.3 127.4,223.4 127.5,223.5 127.6,223.6 127.8,223.7 127.9,223.8 128,223.9 128.2,223.9 128.3,223.9 128.4,223.9 128.6,223.9 128.7,223.9 128.8,223.9 129,223.8 129.1,223.7 129.2,223.7 129.3,223.6 129.5,223.5 129.6,223.3 129.7,223.2 129.9,223.1 130,223 130.1,222.9 130.3,222.8 130.4,222.7 130.5,222.6 130.6,222.6 130.8,222.5 130.9,222.5 131,222.5 131.2,222.5 131.3,222.5 131.4,222.6 131.6,222.6 131.7,222.7 131.8,222.8 131.9,222.9 132.1,223 132.2,223.1 132.3,223.2 132.5,223.3 132.6,223.4 132.7,223.5 132.9,223.6 133,223.7 133.1,223.8 133.2,223.9 133.4,223.9 133.5,223.9 133.6,223.9 133.8,223.9 133.9,223.9 134,223.9 134.2,223.8 134.3,223.7 134.4,223.7 134.5,223.6 134.7,223.5 134.8,223.3 134.9,223.2 135.1,223.1 135.2,223 135.3,222.9 135.5,222.8 135.6,222.7 135.7,222.6 135.9,222.6 136,222.5 136.1,222.5 136.2,222.5 136.4,222.5 136.5,222.5 136.6,222.6 136.8,222.6 136.9,222.7 137,222.8 137.2,222.9 137.3,223 137.4,223.1 137.5,223.2 137.7,223.3 137.8,223.4 137.9,223.5 138.1,223.6 138.2,223.7 138.3,223.8 138.5,223.9 138.6,223.9 138.7,223.9 138.8,223.9 139,223.9 139.1,223.9 139.2,223.9 139.4,223.8 139.5,223.7 139.6,223.7 139.8,223.6 139.9,223.5 140,223.3 140.1,223.2 140.3,223.1 140.4,223 140.5,222.9 140.7,222.8 140.8,222.7 140.9,222.6 141.1,223.2 141.2,223.2 141.3,223.2 141.5,223.2 141.6,223.1 141.7,223.1 141.8,223 142,222.9 142.1,222.8 142.2,222.6 142.4,222.5 142.5,221.3 142.6,218.4 142.8,214.7 142.9,210.8 143,205.7 143.1,199.3 143.3,193.7 143.4,191.4 143.5,192.6 143.7,195.8 143.8,200 143.9,204.5 144.1,208.4 144.2,211.7 144.3,214.9 144.4,218.2 144.6,221.4 144.7,224.6 144.8,227.8 145,231.4 145.1,235.2 145.2,239.1 145.4,242.6 145.5,245.5 145.6,247.3 145.7,248.4 145.9,249.4 146,250.2 146.1,251 146.3,251.7 146.4,252.4 146.5,252.9 146.7,253.4 146.8,253.9 146.9,254.3 147.1,254.8 147.2,255.1 147.3,255.5 147.4,255.9 147.6,256.3 147.7,256.6 147.8,257 148,257.4 148.1,257.7 148.2,258 148.4,258.4 148.5,258.7 148.6,259 148.7,259.3 148.9,259.6 149,259.9 149.1,260.2 149.3,260.5 149.4,260.8 149.5,261.1 149.7,261.3 149.8,261.6 149.9,261.8 150,262.1 150.2,262.4 150.3,262.6 150.4,262.8 150.6,263.1 150.7,263.3 150.8,263.5 151,263.8 151.1,264 151.2,264.2 151.3,264.4 151.5,264.6 151.6,264.8 151.7,265 151.9,265.2 152,265.4 152.1,265.6 152.3,265.8 152.4,266 152.5,266.2 152.7,266.4 152.8,266.6 152.9,266.7 153,266.9 153.2,267.1 153.3,267.3 153.4,267.5 153.6,267.6 153.7,267.8 153.8,268 154,268.1 154.1,268.3 154.2,268.5 154.3,268.6 154.5,268.8 154.6,269 154.7,269.2 154.9,269.3 155,269.5 155.1,269.7 155.3,269.8 155.4,270 155.5,270.1 155.6,270.3 155.8,270.5 155.9,270.6 156,270.8 156.2,270.9 156.3,271.1 156.4,271.2 156.6,271.4 156.7,271.5 156.8,271.7 156.9,271.8 157.1,271.9 157.2,272.1 157.3,272.2 157.5,272.4 157.6,272.5 157.7,272.6 157.9,272.8 158,272.9 158.1,273 158.2,273.2 158.4,273.3 158.5,273.4 158.6,273.6 158.8,273.7 158.9,273.8 159,273.9 159.2,274.1 159.3,274.2 159.4,274.3 159.6,274.4 159.7,274.5 159.8,274.7 159.9,274.8 160.1,274.9 160.2,275 160.3,275.1 160.5,275.2 160.6,275.3 160.7,275.4 160.9,275.6 161,275.7 161.1,275.8 161.2,275.9 161.4,276 161.5,276.1 161.6,276.2 161.8,276.3 161.9,276.4 162,276.5 162.2,276.6 162.3,276.7 162.4,276.8 162.5,276.9 162.7,277 162.8,277.1 162.9,277.2 163.1,277.3 163.2,277.4 163.3,277.5 163.5,277.6 163.6,277.7 163.7,277.8 163.8,277.9 164,277.9 164.1,278 164.2,278.1 164.4,278.2 164.5,278.3 164.6,278.4 164.8,278.5 164.9,278.6 169.2,281.1 173.6,283.2 177.9,284.9 182.3,286.3 186.6,287.5 190.9,288.5 195.3,289.4 199.6,290.2 204,290.9 208.3,291.5 212.6,292 217,292.5 221.3,293 225.7,293.4 230,293.8" fill="none" stroke="#2020ee" stroke-width="1.2" stroke-linejoin="round" />
<rect x="21.65" y="176.7" width="208.35" height="145.1" fill="none" stroke="#3a3a3a" stroke-width="1.1"/>
<path d="M21.65 321.8v-4M21.65 176.7v4M86.76 321.8v-4M86.76 176.7v4M151.87 321.8v-4M151.87 176.7v4M216.98 321.8v-4M216.98 176.7v4M54.2 321.8v-2M54.2 176.7v2M119.31 321.8v-2M119.31 176.7v2M184.42 321.8v-2M184.42 176.7v2M21.65 298.3h4M230 298.3h-4M21.65 274h4M230 274h-4M21.65 249.7h4M230 249.7h-4M21.65 225.4h4M230 225.4h-4M21.65 201.1h4M230 201.1h-4M21.65 176.8h4M230 176.8h-4M21.65 310.45h2M230 310.45h-2M21.65 286.15h2M230 286.15h-2M21.65 261.85h2M230 261.85h-2M21.65 237.55h2M230 237.55h-2M21.65 213.25h2M230 213.25h-2M21.65 188.95h2M230 188.95h-2" stroke="#3a3a3a" stroke-width="1.1" fill="none"/>
<text x="21.65" y="329.1" font-size="6.4" text-anchor="middle" font-family='"Liberation Serif", serif' stroke="#111" stroke-width="0.07">0</text>
<text x="86.76" y="329.1" font-size="6.4" text-anchor="middle" font-family='"Liberation Serif", serif' stroke="#111" stroke-width="0.07">50</text>
<text x="151.87" y="329.1" font-size="6.4" text-anchor="middle" font-family='"Liberation Serif", serif' stroke="#111" stroke-width="0.07">100</text>
<text x="216.98" y="329.1" font-size="6.4" text-anchor="middle" font-family='"Liberation Serif", serif' stroke="#111" stroke-width="0.07">150</text>
<text x="19.35" y="325.2" font-size="7.3" text-anchor="end" font-family='"Liberation Serif", serif' stroke="#111" stroke-width="0.07">0</text>
<text x="19.35" y="300.9" font-size="7.3" text-anchor="end" font-family='"Liberation Serif", serif' stroke="#111" stroke-width="0.07">0.5</text>
<text x="19.35" y="276.6" font-size="7.3" text-anchor="end" font-family='"Liberation Serif", serif' stroke="#111" stroke-width="0.07">1</text>
<text x="19.35" y="252.3" font-size="7.3" text-anchor="end" font-family='"Liberation Serif", serif' stroke="#111" stroke-width="0.07">1.5</text>
<text x="19.35" y="228" font-size="7.3" text-anchor="end" font-family='"Liberation Serif", serif' stroke="#111" stroke-width="0.07">2</text>
<text x="19.35" y="203.7" font-size="7.3" text-anchor="end" font-family='"Liberation Serif", serif' stroke="#111" stroke-width="0.07">2.5</text>
<text x="19.35" y="179.4" font-size="7.3" text-anchor="end" font-family='"Liberation Serif", serif' stroke="#111" stroke-width="0.07">3</text>
<text x="126" y="338.3" font-family='"Liberation Serif", serif' font-size="7.5" text-anchor="middle" stroke="#111" stroke-width="0.15">depth (mm H<tspan font-size="4.50" dy="2.48">2</tspan><tspan dy="-2.48">O)</tspan></text>
<text x="0" y="0" transform="translate(6.6 249.6) rotate(-90)" font-family='"Liberation Serif", serif' font-size="8.7" text-anchor="middle" stroke="#111" stroke-width="0.15">Dose (Gy RBE)</text>
<text x="34.85" y="261.1" font-size="13.8" text-anchor="middle" font-family='"Liberation Sans", sans-serif' stroke="#111" stroke-width="0.35">C</text>
<text x="44.8" y="202.4" font-size="7.5" text-anchor="start" font-family='"Liberation Serif", serif' stroke="#111" stroke-width="0.15">α/β(target)=10;</text>
<text x="46.3" y="210" font-size="7.5" text-anchor="start" font-family='"Liberation Serif", serif' stroke="#111" stroke-width="0.15">α/β(NT)=2;</text>
<rect x="167.4" y="186.6" width="28.4" height="40.3" fill="#fff" stroke="#777" stroke-width="0.85"/>
<path d="M170 191.4H178" stroke="#111" stroke-width="1.4" opacity="0.9"/>
<text x="183.4" y="193.4" font-family='"Liberation Serif", serif' font-size="7.6" stroke="#111" stroke-width="0.15">p</text>
<path d="M170 200.1H178" stroke="#20d020" stroke-width="1.4" opacity="0.9"/>
<text x="183.4" y="205.1" font-family='"Liberation Serif", serif' font-size="7.6" stroke="#111" stroke-width="0.15"><tspan font-size="4.86" dy="-4.56" stroke-width="0.07">4</tspan><tspan dy="4.56">He</tspan></text>
<path d="M170 210.3H178" stroke="#ee2020" stroke-width="1.4" opacity="0.9"/>
<text x="183.4" y="215.2" font-family='"Liberation Serif", serif' font-size="7.6" stroke="#111" stroke-width="0.15"><tspan font-size="4.86" dy="-4.56" stroke-width="0.07">12</tspan><tspan dy="4.56">C</tspan></text>
<path d="M170 220.1H178" stroke="#2020ee" stroke-width="1.4" opacity="0.9"/>
<text x="183.4" y="225" font-family='"Liberation Serif", serif' font-size="7.6" stroke="#111" stroke-width="0.15"><tspan font-size="4.86" dy="-4.56" stroke-width="0.07">16</tspan><tspan dy="4.56">O</tspan></text>
<rect x="342.29" y="174" width="29.4" height="147.1" fill="#e8e8e8"/>
<path d="M342.29 174V321.1M371.69 174V321.1" stroke="#e5b0a8" stroke-width="0.8"/>
<path d="M262.9 285.6H474.6" stroke="#f2ea8c" stroke-width="1"/>
<polyline points="262.9,320.7 266.4,320.7 270,320.7 273.5,320.7 277,320.7 280.5,320.7 284.1,320.7 287.6,320.7 291.1,320.7 294.7,320.7 298.2,320.7 301.7,320.7 305.2,320.7 308.8,320.7 312.3,320.7 315.8,320.7 319.4,320.7 322.9,320.7 326.4,320.7 329.9,320.7 333.5,320.7 333.6,320.7 333.7,320.7 333.8,320.7 333.9,320.7 334.1,320.7 334.2,320.7 334.3,320.7 334.4,320.7 334.5,320.7 334.6,320.7 334.8,320.7 334.9,320.7 335,320.7 335.1,320.7 335.2,320.7 335.3,320.7 335.5,320.7 335.6,320.7 335.7,320.7 335.8,320.7 335.9,320.7 336.1,320.7 336.2,320.7 336.3,320.7 336.4,320.7 336.5,320.7 336.6,320.7 336.8,320.7 336.9,320.7 337,320.7 337.1,320.7 337.2,320.7 337.3,320.7 337.5,320.7 337.6,320.7 337.7,320.7 337.8,320.7 337.9,320.7 338.1,320.7 338.2,320.7 338.3,320.7 338.4,320.7 338.5,320.7 338.6,320.7 338.8,320.7 338.9,320.7 339,320.7 339.1,320.7 339.2,320.7 339.3,320.7 339.5,320.7 339.6,320.7 339.7,320.7 339.8,320.7 339.9,320.7 340.1,320.7 340.2,320.7 340.3,320.7 340.4,320.7 340.5,320.7 340.6,320.7 340.8,320.7 340.9,320.7 341,320.7 341.1,320.7 341.2,320.7 341.3,320.7 341.5,320.7 341.6,320.7 341.7,320.7 341.8,320.7 341.9,320.7 342.1,320.7 342.2,320.7 342.3,320.7 342.4,320.7 342.5,320.7 342.6,320.7 342.8,320.7 342.9,320.7 343,320.7 343.1,320.7 343.2,320.7 343.3,320.7 343.5,320.7 343.6,320.7 343.7,320.7 343.8,320.7 343.9,320.7 344.1,320.7 344.2,320.7 344.3,320.7 344.4,320.7 344.5,320.7 344.6,320.7 344.8,320.7 344.9,320.7 345,320.7 345.1,320.7 345.2,320.7 345.3,320.7 345.5,320.7 345.6,320.7 345.7,320.7 345.8,320.7 345.9,320.7 346.1,320.7 346.2,320.7 346.3,320.7 346.4,320.7 346.5,320.7 346.6,320.7 346.8,320.7 346.9,320.7 347,320.7 347.1,320.7 347.2,320.7 347.3,320.7 347.5,320.7 347.6,320.7 347.7,320.7 347.8,320.7 347.9,320.7 348.1,320.7 348.2,320.7 348.3,320.7 348.4,320.7 348.5,320.7 348.6,320.7 348.8,320.7 348.9,320.7 349,320.7 349.1,320.7 349.2,320.7 349.3,320.7 349.5,320.7 349.6,320.7 349.7,320.7 349.8,320.7 349.9,320.7 350,320.7 350.2,320.7 350.3,320.7 350.4,320.7 350.5,320.7 350.6,320.7 350.8,320.7 350.9,320.7 351,320.7 351.1,320.7 351.2,320.7 351.3,320.7 351.5,320.7 351.6,320.7 351.7,320.7 351.8,320.7 351.9,320.7 352,320.7 352.2,320.7 352.3,320.7 352.4,320.7 352.5,320.7 352.6,320.7 352.8,320.7 352.9,320.7 353,320.7 353.1,320.7 353.2,320.7 353.3,320.7 353.5,320.7 353.6,320.7 353.7,320.7 353.8,320.7 353.9,320.7 354,320.7 354.2,320.7 354.3,320.7 354.4,320.7 354.5,320.7 354.6,320.7 354.8,320.7 354.9,320.7 355,320.7 355.1,320.7 355.2,320.7 355.3,320.7 355.5,320.7 355.6,320.7 355.7,320.7 355.8,320.7 355.9,320.7 356,320.7 356.2,320.7 356.3,320.7 356.4,320.7 356.5,320.7 356.6,320.7 356.8,320.7 356.9,320.7 357,320.7 357.1,320.7 357.2,320.7 357.3,320.7 357.5,320.7 357.6,320.7 357.7,320.7 357.8,320.7 357.9,320.7 358,320.7 358.2,320.7 358.3,320.7 358.4,320.7 358.5,320.7 358.6,320.7 358.8,320.7 358.9,320.7 359,320.7 359.1,320.7 359.2,320.7 359.3,320.7 359.5,320.7 359.6,320.7 359.7,320.7 359.8,320.7 359.9,320.7 360,320.7 360.2,320.7 360.3,320.7 360.4,320.7 360.5,320.7 360.6,320.7 360.8,320.7 360.9,320.7 361,320.7 361.1,320.7 361.2,320.7 361.3,320.7 361.5,320.7 361.6,320.7 361.7,320.7 361.8,320.7 361.9,320.7 362,320.7 362.2,320.7 362.3,320.7 362.4,320.7 362.5,320.7 362.6,320.7 362.8,320.7 362.9,320.7 363,320.7 363.1,320.7 363.2,320.7 363.3,320.7 363.5,320.7 363.6,320.7 363.7,320.7 363.8,320.7 363.9,320.7 364,320.7 364.2,320.7 364.3,320.7 364.4,320.7 364.5,320.7 364.6,320.7 364.8,320.7 364.9,320.7 365,320.7 365.1,320.7 365.2,320.7 365.3,320.7 365.5,320.7 365.6,320.7 365.7,320.7 365.8,320.7 365.9,320.7 366,320.7 366.2,320.7 366.3,320.7 366.4,320.7 366.5,320.7 366.6,320.7 366.8,320.7 366.9,320.7 367,320.6 367.1,320.6 367.2,320.6 367.3,320.6 367.5,320.6 367.6,320.5 367.7,320.5 367.8,320.5 367.9,320.5 368,320.4 368.2,320.4 368.3,320.4 368.4,320.4 368.5,320.4 368.6,320.3 368.8,320.3 368.9,320.3 369,320.3 369.1,320.2 369.2,320.2 369.3,320.2 369.5,320.1 369.6,320 369.7,319.9 369.8,319.8 369.9,319.7 370,319.6 370.2,319.5 370.3,319.4 370.4,319.3 370.5,319.2 370.6,319 370.7,318.9 370.9,318.8 371,318.7 371.1,318.6 371.2,318.5 371.3,318.4 371.5,318.3 371.6,318.2 371.7,318.1 371.8,318 371.9,317.9 372,317.8 372.2,317.7 372.3,317.6 372.4,317.5 372.5,317.4 372.6,317.3 372.7,317.2 372.9,317.1 373,317 373.1,316.9 373.2,316.7 373.3,316.6 373.5,316.5 373.6,316.4 373.7,316.3 373.8,316.2 373.9,316.1 374,316 374.2,315.9 374.3,315.8 374.4,315.7 374.5,315.6 374.6,315.5 374.7,315.4 374.9,315.3 375,315.2 375.1,315.1 375.2,315 375.3,314.9 375.5,314.8 375.6,314.7 375.7,314.6 375.8,314.4 375.9,314.3 376,314.2 376.2,314.1 376.3,314 376.4,313.9 376.5,313.8 376.6,313.7 376.7,313.6 376.9,313.5 377,313.4 377.1,313.3 377.2,313.2 377.3,313.1 377.5,313 377.6,312.9 377.7,312.8 377.8,312.7 377.9,312.6 378,312.5 378.2,312.4 378.3,312.3 378.4,312.1 378.5,312 378.6,311.9 378.7,311.8 378.9,311.7 379,311.6 379.1,311.5 379.2,311.4 379.3,311.3 379.5,311.2 379.6,311.1 379.7,311 379.8,310.9 379.9,314.2 380,317.6 380.2,320.7 380.3,320.7 380.4,320.7 380.5,320.7 384,320.7 387.6,320.7 391.1,320.7 394.6,320.7 398.2,320.7 401.7,320.7 405.2,320.7 408.7,320.7 412.3,320.7 415.8,320.7 419.3,320.7 422.9,320.7 426.4,320.7 429.9,320.7 433.4,320.7 437,320.7 440.5,320.7 444,320.7 447.5,320.7 451.1,320.7 454.6,320.7 458.1,320.7 461.7,320.7 465.2,320.7 468.7,320.7 472.2,320.7 474.6,320.7" fill="none" stroke="#111" stroke-width="1.35" stroke-linejoin="round" />
<polyline points="262.9,320 266.4,320 270,320 273.5,320 277,320 280.5,320 284.1,320 287.6,320 291.1,319.9 294.7,319.9 298.2,319.9 301.7,319.9 305.2,319.9 308.8,319.9 312.3,319.9 315.8,319.9 319.4,319.8 322.9,319.8 326.4,319.8 329.9,319.8 333.5,319.7 333.6,319.7 333.7,319.7 333.8,319.7 333.9,319.7 334.1,319.7 334.2,319.7 334.3,319.7 334.4,319.7 334.5,319.7 334.6,319.7 334.8,319.7 334.9,319.7 335,319.7 335.1,319.7 335.2,319.7 335.3,319.7 335.5,319.7 335.6,319.7 335.7,319.7 335.8,319.7 335.9,319.6 336.1,319.6 336.2,319.6 336.3,319.6 336.4,319.6 336.5,319.6 336.6,319.6 336.8,319.6 336.9,319.6 337,319.6 337.1,319.6 337.2,319.6 337.3,319.6 337.5,319.6 337.6,319.6 337.7,319.6 337.8,319.6 337.9,319.6 338.1,319.6 338.2,319.6 338.3,319.5 338.4,319.5 338.5,319.5 338.6,319.5 338.8,319.5 338.9,319.5 339,319.5 339.1,319.5 339.2,319.5 339.3,319.5 339.5,319.5 339.6,319.5 339.7,319.5 339.8,319.5 339.9,319.5 340.1,319.5 340.2,319.5 340.3,319.5 340.4,319.5 340.5,319.5 340.6,319.4 340.8,319.3 340.9,319.2 341,319.1 341.1,319 341.2,318.9 341.3,318.9 341.5,318.8 341.6,318.7 341.7,318.6 341.8,318.5 341.9,318.4 342.1,318.3 342.2,318.2 342.3,318 342.4,317.9 342.5,317.7 342.6,317.6 342.8,317.4 342.9,317.3 343,317.1 343.1,317 343.2,316.8 343.3,316.8 343.5,316.8 343.6,316.7 343.7,316.7 343.8,316.7 343.9,316.7 344.1,316.6 344.2,316.6 344.3,316.6 344.4,316.5 344.5,316.5 344.6,316.5 344.8,316.4 344.9,316.4 345,316.4 345.1,316.3 345.2,316.3 345.3,316.3 345.5,316.2 345.6,316.2 345.7,316.2 345.8,316.2 345.9,316.1 346.1,316.1 346.2,316.1 346.3,316.1 346.4,316.1 346.5,316 346.6,316 346.8,316 346.9,316 347,315.9 347.1,315.9 347.2,315.9 347.3,315.9 347.5,315.8 347.6,315.8 347.7,315.8 347.8,315.8 347.9,315.7 348.1,315.7 348.2,315.7 348.3,315.7 348.4,315.7 348.5,315.6 348.6,315.6 348.8,315.6 348.9,315.6 349,315.5 349.1,315.5 349.2,315.5 349.3,315.5 349.5,315.4 349.6,315.4 349.7,315.4 349.8,315.4 349.9,315.3 350,315.3 350.2,315.3 350.3,315.3 350.4,315.3 350.5,315.2 350.6,315.2 350.8,315.2 350.9,315.2 351,315.1 351.1,315.1 351.2,315.1 351.3,315.1 351.5,315 351.6,315 351.7,315 351.8,315 351.9,314.9 352,314.9 352.2,314.9 352.3,314.9 352.4,314.8 352.5,314.8 352.6,314.8 352.8,314.8 352.9,314.8 353,314.7 353.1,314.7 353.2,314.7 353.3,314.7 353.5,314.6 353.6,314.6 353.7,314.6 353.8,314.6 353.9,314.5 354,314.5 354.2,314.5 354.3,314.5 354.4,314.4 354.5,314.4 354.6,314.4 354.8,314.4 354.9,314.4 355,314.3 355.1,314.3 355.2,314.3 355.3,314.3 355.5,314.2 355.6,314.2 355.7,314.2 355.8,314.2 355.9,314.1 356,314.1 356.2,314.1 356.3,314.1 356.4,314 356.5,314 356.6,314 356.8,314 356.9,314 357,313.9 357.1,313.9 357.2,313.9 357.3,313.9 357.5,313.8 357.6,313.8 357.7,313.8 357.8,313.8 357.9,313.7 358,313.7 358.2,313.7 358.3,313.7 358.4,313.6 358.5,313.6 358.6,313.6 358.8,313.6 358.9,313.6 359,313.5 359.1,313.5 359.2,313.5 359.3,313.5 359.5,313.4 359.6,313.4 359.7,313.4 359.8,313.4 359.9,313.3 360,313.3 360.2,313.3 360.3,313.2 360.4,313.2 360.5,313.1 360.6,313.1 360.8,313 360.9,313 361,312.9 361.1,312.9 361.2,312.9 361.3,312.8 361.5,312.8 361.6,312.7 361.7,312.7 361.8,312.6 361.9,312.6 362,312.5 362.2,312.5 362.3,312.4 362.4,312.4 362.5,312.3 362.6,312.3 362.8,312.3 362.9,312.2 363,312.2 363.1,312.1 363.2,312.1 363.3,312 363.5,312 363.6,311.9 363.7,311.9 363.8,311.8 363.9,311.8 364,311.8 364.2,311.7 364.3,311.7 364.4,311.6 364.5,311.6 364.6,311.5 364.8,311.5 364.9,311.4 365,311.4 365.1,311.3 365.2,311.3 365.3,311.2 365.5,311.2 365.6,311.2 365.7,311.1 365.8,311.1 365.9,311 366,311 366.2,310.9 366.3,310.9 366.4,310.8 366.5,310.8 366.6,310.7 366.8,310.7 366.9,310.6 367,310.6 367.1,310.6 367.2,310.5 367.3,310.5 367.5,310.4 367.6,310.4 367.7,310.3 367.8,310.3 367.9,310.2 368,310.2 368.2,310.1 368.3,310.1 368.4,310.1 368.5,310 368.6,310 368.8,309.9 368.9,309.9 369,309.8 369.1,309.8 369.2,309.7 369.3,309.7 369.5,309.6 369.6,309.6 369.7,309.5 369.8,309.5 369.9,309.5 370,309.4 370.2,309.3 370.3,309.1 370.4,308.9 370.5,308.8 370.6,308.6 370.7,308.5 370.9,308.3 371,308.2 371.1,308 371.2,307.9 371.3,307.7 371.5,307.6 371.6,307.4 371.7,307.3 371.8,307.1 371.9,307 372,306.8 372.2,306.7 372.3,306.5 372.4,306.3 372.5,306.2 372.6,306 372.7,305.9 372.9,305.7 373,305.6 373.1,305.4 373.2,305.3 373.3,305.1 373.5,305 373.6,304.8 373.7,304.7 373.8,304.5 373.9,304.4 374,304.2 374.2,305 374.3,305.8 374.4,306.6 374.5,307.4 374.6,308.2 374.7,309 374.9,309.8 375,310.6 375.1,311.4 375.2,312.2 375.3,313 375.5,313.8 375.6,314.6 375.7,315.4 375.8,316.2 375.9,317 376,317.8 376.2,318.6 376.3,319.5 376.4,319.5 376.5,319.5 376.6,319.5 376.7,319.5 376.9,319.5 377,319.5 377.1,319.5 377.2,319.5 377.3,319.5 377.5,319.5 377.6,319.5 377.7,319.5 377.8,319.5 377.9,319.6 378,319.6 378.2,319.6 378.3,319.6 378.4,319.6 378.5,319.6 378.6,319.6 378.7,319.6 378.9,319.6 379,319.6 379.1,319.6 379.2,319.6 379.3,319.6 379.5,319.6 379.6,319.7 379.7,319.7 379.8,319.7 379.9,319.7 380,319.7 380.2,319.7 380.3,319.7 380.4,319.7 380.5,319.7 384,319.7 387.6,319.7 391.1,319.7 394.6,319.7 398.2,319.7 401.7,319.7 405.2,319.7 408.7,319.7 412.3,319.7 415.8,319.7 419.3,319.7 422.9,319.7 426.4,319.7 429.9,319.7 433.4,319.7 437,319.7 440.5,319.7 444,319.7 447.5,319.7 451.1,319.7 454.6,319.7 458.1,319.7 461.7,319.7 465.2,319.7 468.7,319.7 472.2,319.7 474.6,319.7" fill="none" stroke="#20d020" stroke-width="1.2" stroke-linejoin="round" />
<polyline points="345.2,303.5 345.8,303.2 346.4,303 347,302.8 347.6,302.6 348.2,302.3 348.8,302.1 349.3,301.9 349.9,301.7 350.5,301.4 351.1,301.2 351.7,300.8 352.3,300.4 352.9,299.9 353.5,299.5 354,299.1 354.6,298.7 355.2,298.2 355.8,297.9 356.4,297.5 357,297.1 357.6,296.7 358.2,296.3 358.8,295.9 359.3,295.6 359.9,295.2 360.5,294.8 361.1,294.4 361.7,294 362.3,293.5 362.9,292.8 363.5,292.1 364,291.3 364.6,290.6 365.2,289.9 365.8,289.2 366.4,288.4 367,287.7 367.6,287 368.2,285.9 368.8,284.5 369.3,283.1 369.9,281.7" fill="none" stroke="#f06060" stroke-width="0.7" stroke-linejoin="round" />
<polyline points="262.9,315.4 266.4,315.2 270,315.1 273.5,315 277,314.9 280.5,314.8 284.1,314.7 287.6,314.6 291.1,314.4 294.7,314.2 298.2,314 301.7,313.8 305.2,313.6 308.8,313.4 312.3,313.2 315.8,313 319.4,312.8 322.9,312.5 326.4,312.3 329.9,312 333.5,311.3 333.6,311.3 333.7,311.3 333.8,311.3 333.9,311.3 334.1,311.2 334.2,311.2 334.3,311.2 334.4,311.2 334.5,311.1 334.6,311.1 334.8,311.1 334.9,311.1 335,311.1 335.1,311 335.2,311 335.3,311 335.5,311 335.6,310.9 335.7,310.9 335.8,310.9 335.9,310.8 336.1,310.8 336.2,310.8 336.3,310.7 336.4,310.7 336.5,310.6 336.6,310.6 336.8,310.5 336.9,310.5 337,310.4 337.1,310.4 337.2,310.3 337.3,310.3 337.5,310.2 337.6,310.2 337.7,310.2 337.8,310.1 337.9,310.1 338.1,310 338.2,310 338.3,309.9 338.4,309.9 338.5,309.8 338.6,309.8 338.8,309.7 338.9,309.7 339,309.6 339.1,309.6 339.2,309.5 339.3,309.5 339.5,309.5 339.6,309.4 339.7,309.4 339.8,309.3 339.9,309.3 340.1,309.2 340.2,309.2 340.3,309.1 340.4,309.1 340.5,309 340.6,308.8 340.8,308.6 340.9,308.4 341,308.2 341.1,308 341.2,307.8 341.3,307.6 341.5,307.4 341.6,307.3 341.7,307.1 341.8,306.9 341.9,306.7 342.1,306.5 342.2,306.3 342.3,306.1 342.4,305.3 342.5,304.6 342.6,303.9 342.8,303.2 342.9,302.5 343,301.8 343.1,301.1 343.2,300.4 343.3,299.7 343.5,299 343.6,298.2 343.7,298.1 343.8,298 343.9,297.9 344.1,297.8 344.2,297.7 344.3,297.6 344.4,297.5 344.5,297.4 344.6,297.3 344.8,297.2 344.9,297.1 345,297 345.1,296.9 345.2,296.8 345.3,296.7 345.5,296.7 345.6,296.6 345.7,296.6 345.8,296.6 345.9,296.5 346.1,296.5 346.2,296.5 346.3,296.4 346.4,296.4 346.5,296.4 346.6,296.3 346.8,296.3 346.9,296.2 347,296.2 347.1,296.2 347.2,296.1 347.3,296.1 347.5,296.1 347.6,296 347.7,296 347.8,295.9 347.9,295.9 348.1,295.9 348.2,295.8 348.3,295.8 348.4,295.8 348.5,295.7 348.6,295.7 348.8,295.6 348.9,295.6 349,295.6 349.1,295.5 349.2,295.5 349.3,295.5 349.5,295.4 349.6,295.4 349.7,295.3 349.8,295.3 349.9,295.3 350,295.2 350.2,295.2 350.3,295.2 350.4,295.1 350.5,295.1 350.6,295 350.8,295 350.9,295 351,294.9 351.1,294.9 351.2,294.9 351.3,294.8 351.5,294.8 351.6,294.8 351.7,294.7 351.8,294.7 351.9,294.7 352,294.6 352.2,294.6 352.3,294.6 352.4,294.5 352.5,294.5 352.6,294.5 352.8,294.4 352.9,294.4 353,294.4 353.1,294.3 353.2,294.3 353.3,294.3 353.5,294.2 353.6,294.2 353.7,294.2 353.8,294.1 353.9,294.1 354,294.1 354.2,294 354.3,294 354.4,294 354.5,293.9 354.6,293.9 354.8,293.9 354.9,293.8 355,293.8 355.1,293.7 355.2,293.6 355.3,293.6 355.5,293.5 355.6,293.4 355.7,293.3 355.8,293.3 355.9,293.2 356,293.1 356.2,293 356.3,293 356.4,292.9 356.5,292.8 356.6,292.7 356.8,292.7 356.9,292.6 357,292.5 357.1,292.4 357.2,292.4 357.3,292.3 357.5,292.2 357.6,292.1 357.7,292.1 357.8,292 357.9,291.9 358,291.8 358.2,291.8 358.3,291.7 358.4,291.6 358.5,291.6 358.6,291.5 358.8,291.4 358.9,291.3 359,291.3 359.1,291.2 359.2,291.1 359.3,291 359.5,291 359.6,290.9 359.7,290.8 359.8,290.7 359.9,290.6 360,290.5 360.2,290.3 360.3,290.2 360.4,290.1 360.5,290 360.6,289.9 360.8,289.7 360.9,289.6 361,289.5 361.1,289.4 361.2,289.3 361.3,289.1 361.5,289 361.6,288.9 361.7,288.8 361.8,288.7 361.9,288.6 362,288.4 362.2,288.3 362.3,288.2 362.4,288.1 362.5,288 362.6,287.8 362.8,287.7 362.9,287.6 363,287.5 363.1,287.4 363.2,287.3 363.3,287.1 363.5,287 363.6,286.9 363.7,286.8 363.8,286.7 363.9,286.5 364,286.4 364.2,286.3 364.3,286.2 364.4,286.1 364.5,286 364.6,285.8 364.8,285.7 364.9,285.6 365,285.5 365.1,285.4 365.2,285.2 365.3,285.1 365.5,285 365.6,284.8 365.7,284.6 365.8,284.4 365.9,284.2 366,284.1 366.2,283.9 366.3,283.7 366.4,283.5 366.5,283.3 366.6,283.1 366.8,282.9 366.9,282.7 367,282.5 367.1,282.3 367.2,282.1 367.3,282 367.5,281.8 367.6,281.6 367.7,281.4 367.8,281.2 367.9,281 368,280.8 368.2,280.6 368.3,280.4 368.4,280.2 368.5,280.1 368.6,279.9 368.8,279.7 368.9,279.5 369,279.3 369.1,279.1 369.2,278.9 369.3,278.7 369.5,278.5 369.6,278.1 369.7,277.6 369.8,277.1 369.9,276.6 370,276.2 370.2,275.7 370.3,275.2 370.4,274.8 370.5,274.3 370.6,273.8 370.7,273.3 370.9,272.9 371,272.4 371.1,271.9 371.2,271.5 371.3,270.4 371.5,269.3 371.6,268.2 371.7,267.1 371.8,266.1 371.9,265 372,263.9 372.2,262.8 372.3,261.7 372.4,260.6 372.5,259.6 372.6,257.9 372.7,256.2 372.9,254.5 373,252.9 373.1,251.2 373.2,249.5 373.3,247.8 373.5,246.2 373.6,244.5 373.7,242.8 373.8,241.1 373.9,239.5 374,249.1 374.2,258.8 374.3,268.5 374.4,278.2 374.5,287.8 374.6,297.5 374.7,307.2 374.9,307.3 375,307.5 375.1,307.7 375.2,307.9 375.3,308 375.5,308.2 375.6,308.4 375.7,308.5 375.8,308.7 375.9,308.9 376,309 376.2,309.1 376.3,309.1 376.4,309.1 376.5,309.2 376.6,309.2 376.7,309.2 376.9,309.3 377,309.3 377.1,309.3 377.2,309.4 377.3,309.4 377.5,309.4 377.6,309.5 377.7,309.5 377.8,309.5 377.9,309.6 378,309.6 378.2,309.7 378.3,309.7 378.4,309.7 378.5,309.8 378.6,309.8 378.7,309.8 378.9,309.9 379,309.9 379.1,309.9 379.2,310 379.3,310 379.5,310 379.6,310.1 379.7,310.1 379.8,310.1 379.9,310.2 380,310.2 380.2,310.2 380.3,310.3 380.4,310.3 380.5,310.3 384,310.7 387.6,311 391.1,311.4 394.6,311.8 398.2,312.2 401.7,312.6 405.2,313.1 408.7,313.6 412.3,314.1 415.8,314.6 419.3,315.1 422.9,315.6 426.4,316 429.9,316.3 433.4,316.6 437,317 440.5,317.2 444,317.3 447.5,317.4 451.1,317.4 454.6,317.5 458.1,317.5 461.7,317.6 465.2,317.6 468.7,317.7 472.2,317.7 474.6,317.8" fill="none" stroke="#ee2020" stroke-width="1.2" stroke-linejoin="round" />
<polyline points="345.2,290.8 345.8,290.6 346.4,290.4 347,290.1 347.6,289.9 348.2,289.7 348.8,289.5 349.3,289.2 349.9,289 350.5,288.8 351.1,288.6 351.7,288.2 352.3,287.9 352.9,287.6 353.5,287.2 354,286.9 354.6,286.5 355.2,286.1 355.8,285.5 356.4,284.8 357,284.2 357.6,283.6 358.2,283 358.8,282.3 359.3,281.7 359.9,281.1 360.5,280.5 361.1,279.8 361.7,279.2 362.3,278.6 362.9,277.9 363.5,277.3 364,276.7 364.6,276.1 365.2,275.4 365.8,274.5 366.4,273.3 367,272.1 367.6,271 368.2,269.8 368.8,268.6 369.3,267.4 369.9,266.3" fill="none" stroke="#6060f0" stroke-width="0.7" stroke-linejoin="round" />
<polyline points="262.9,312 266.4,311.9 270,311.8 273.5,311.8 277,311.7 280.5,311.6 284.1,311.5 287.6,311.4 291.1,311.3 294.7,311.1 298.2,311 301.7,310.8 305.2,310.7 308.8,310.6 312.3,310.4 315.8,310.2 319.4,310 322.9,309.4 326.4,308.7 329.9,307.9 333.5,306.6 333.6,306.5 333.7,306.5 333.8,306.4 333.9,306.4 334.1,306.4 334.2,306.3 334.3,306.3 334.4,306.2 334.5,306.2 334.6,306.1 334.8,306.1 334.9,306 335,306 335.1,306 335.2,305.9 335.3,305.9 335.5,305.8 335.6,305.8 335.7,305.7 335.8,305.7 335.9,305.6 336.1,305.5 336.2,305.4 336.3,305.3 336.4,305.2 336.5,305.1 336.6,305 336.8,304.9 336.9,304.8 337,304.7 337.1,304.6 337.2,304.5 337.3,304.4 337.5,304.3 337.6,304.2 337.7,304.1 337.8,303.9 337.9,303.8 338.1,303.7 338.2,303.6 338.3,303.5 338.4,303.4 338.5,303.3 338.6,303.2 338.8,303.1 338.9,303 339,302.9 339.1,302.8 339.2,302.7 339.3,302.6 339.5,302.5 339.6,302.4 339.7,302.3 339.8,302.2 339.9,302.1 340.1,302 340.2,301.9 340.3,301.8 340.4,301.7 340.5,301.6 340.6,301.2 340.8,300.9 340.9,300.5 341,300.1 341.1,299.7 341.2,299.4 341.3,299 341.5,298.6 341.6,298.2 341.7,297.9 341.8,297.5 341.9,297.1 342.1,296.8 342.2,296 342.3,295.3 342.4,294.5 342.5,293.8 342.6,293 342.8,292.3 342.9,291.6 343,290.8 343.1,290.1 343.2,289.7 343.3,289.3 343.5,288.9 343.6,288.6 343.7,288.2 343.8,287.8 343.9,287.5 344.1,287.1 344.2,286.7 344.3,286.3 344.4,286 344.5,285.6 344.6,285.2 344.8,284.9 344.9,284.5 345,284.1 345.1,283.7 345.2,283.4 345.3,283.4 345.5,283.5 345.6,283.6 345.7,283.6 345.8,283.7 345.9,283.8 346.1,283.9 346.2,283.9 346.3,284 346.4,284.1 346.5,284.1 346.6,284.2 346.8,284.3 346.9,284.3 347,284.4 347.1,284.5 347.2,284.4 347.3,284.3 347.5,284.3 347.6,284.2 347.7,284.1 347.8,284 347.9,283.9 348.1,283.9 348.2,283.8 348.3,283.7 348.4,283.6 348.5,283.6 348.6,283.5 348.8,283.4 348.9,283.3 349,283.3 349.1,283.2 349.2,283.1 349.3,283 349.5,283 349.6,282.9 349.7,282.8 349.8,282.7 349.9,282.6 350,282.6 350.2,282.5 350.3,282.4 350.4,282.3 350.5,282.3 350.6,282.2 350.8,282.1 350.9,282 351,282 351.1,281.9 351.2,281.8 351.3,281.7 351.5,281.6 351.6,281.6 351.7,281.5 351.8,281.4 351.9,281.3 352,281.2 352.2,281.2 352.3,281.1 352.4,281 352.5,280.9 352.6,280.9 352.8,280.8 352.9,280.7 353,280.6 353.1,280.5 353.2,280.5 353.3,280.4 353.5,280.3 353.6,280.2 353.7,280.1 353.8,280.1 353.9,280 354,279.9 354.2,279.8 354.3,279.7 354.4,279.7 354.5,279.6 354.6,279.5 354.8,279.4 354.9,279.4 355,279.3 355.1,279.2 355.2,279.1 355.3,279.1 355.5,279 355.6,278.9 355.7,278.9 355.8,278.8 355.9,278.7 356,278.7 356.2,278.6 356.3,278.5 356.4,278.5 356.5,278.4 356.6,278.3 356.8,278.3 356.9,278.2 357,278.1 357.1,278 357.2,278 357.3,277.9 357.5,277.8 357.6,277.8 357.7,277.7 357.8,277.6 357.9,277.6 358,277.5 358.2,277.4 358.3,277.4 358.4,277.3 358.5,277.2 358.6,277.2 358.8,277.1 358.9,277 359,277 359.1,276.9 359.2,276.8 359.3,276.7 359.5,276.7 359.6,276.6 359.7,276.5 359.8,276.5 359.9,276.4 360,276.3 360.2,276.3 360.3,276.2 360.4,276.1 360.5,276.1 360.6,276 360.8,275.9 360.9,275.7 361,275.5 361.1,275.3 361.2,275.1 361.3,275 361.5,274.8 361.6,274.6 361.7,274.4 361.8,274.2 361.9,274 362,273.8 362.2,273.6 362.3,273.4 362.4,273.2 362.5,273 362.6,272.8 362.8,272.6 362.9,272.4 363,272.2 363.1,272 363.2,271.8 363.3,271.6 363.5,271.4 363.6,271.2 363.7,271 363.8,270.9 363.9,270.7 364,270.5 364.2,270.3 364.3,270.1 364.4,269.9 364.5,269.7 364.6,269.5 364.8,269.3 364.9,269.1 365,268.9 365.1,268.7 365.2,268.5 365.3,268.3 365.5,268.1 365.6,267.8 365.7,267.6 365.8,267.3 365.9,267 366,266.7 366.2,266.4 366.3,266.1 366.4,265.9 366.5,265.6 366.6,265.3 366.8,265 366.9,264.7 367,264.4 367.1,264.2 367.2,263.9 367.3,263.6 367.5,263.3 367.6,263 367.7,262.7 367.8,262.5 367.9,262.2 368,261.9 368.2,261.6 368.3,261.3 368.4,261 368.5,260.5 368.6,260 368.8,259.5 368.9,258.9 369,258.4 369.1,257.9 369.2,257.3 369.3,256.8 369.5,256.3 369.6,255.7 369.7,255.2 369.8,254.7 369.9,254.1 370,253.6 370.2,252.6 370.3,251.5 370.4,250.5 370.5,249.5 370.6,248.4 370.7,247.4 370.9,246.4 371,245.3 371.1,244.3 371.2,243.2 371.3,242.2 371.5,241.2 371.6,240.1 371.7,239.1 371.8,237 371.9,234.9 372,232.8 372.2,230.7 372.3,228.6 372.4,226.6 372.5,224.5 372.6,222.4 372.7,220.3 372.9,218.2 373,216.1 373.1,214 373.2,211.9 373.3,209.8 373.5,207.7 373.6,205.7 373.7,203.6 373.8,201.5 373.9,199.4 374,197.3 374.2,195.2 374.3,205.9 374.4,216.6 374.5,227.3 374.6,238 374.7,248.7 374.9,259.4 375,270.1 375.1,280.8 375.2,291.6 375.3,291.6 375.5,291.7 375.6,291.8 375.7,291.8 375.8,291.9 375.9,291.9 376,292 376.2,292.1 376.3,292.1 376.4,292.2 376.5,292.3 376.6,292.3 376.7,292.4 376.9,292.5 377,292.5 377.1,292.6 377.2,292.7 377.3,292.7 377.5,292.8 377.6,292.9 377.7,292.9 377.8,293 377.9,293.1 378,293.1 378.2,293.2 378.3,293.3 378.4,293.3 378.5,293.4 378.6,293.5 378.7,293.5 378.9,293.6 379,293.7 379.1,293.7 379.2,293.8 379.3,293.9 379.5,293.9 379.6,294 379.7,294.1 379.8,294.1 379.9,294.2 380,294.3 380.2,294.3 380.3,294.4 380.4,294.5 380.5,294.5 384,297.4 387.6,300.3 391.1,303.2 394.6,305.8 398.2,307.5 401.7,309.3 405.2,311 408.7,312.6 412.3,313.6 415.8,314.6 419.3,315.5 422.9,316.3 426.4,316.6 429.9,316.8 433.4,317 437,317.3 440.5,317.4 444,317.5 447.5,317.6 451.1,317.7 454.6,317.8 458.1,317.9 461.7,318 465.2,318.1 468.7,318.2 472.2,318.3 474.6,318.3" fill="none" stroke="#2020ee" stroke-width="1.2" stroke-linejoin="round" />
<g fill="#ee2020"><circle cx="345.2" cy="296.8" r="1.2"/><circle cx="347.2" cy="296.1" r="1.2"/><circle cx="349.2" cy="295.5" r="1.2"/><circle cx="351.2" cy="294.9" r="1.2"/><circle cx="353.2" cy="294.3" r="1.2"/><circle cx="355.2" cy="293.6" r="1.2"/><circle cx="357.2" cy="292.4" r="1.2"/><circle cx="359.2" cy="291.1" r="1.2"/><circle cx="361.2" cy="289.3" r="1.2"/><circle cx="363.2" cy="287.3" r="1.2"/><circle cx="365.2" cy="285.2" r="1.2"/><circle cx="367.2" cy="282.1" r="1.2"/><circle cx="369.2" cy="278.9" r="1.2"/><circle cx="371.2" cy="271.5" r="1.2"/></g>
<g fill="#2020ee"><circle cx="345.2" cy="283.4" r="1.25"/><circle cx="347.2" cy="284.4" r="1.25"/><circle cx="349.2" cy="283.1" r="1.25"/><circle cx="351.2" cy="281.8" r="1.25"/><circle cx="353.2" cy="280.5" r="1.25"/><circle cx="355.2" cy="279.1" r="1.25"/><circle cx="357.2" cy="278" r="1.25"/><circle cx="359.2" cy="276.8" r="1.25"/><circle cx="361.2" cy="275.1" r="1.25"/><circle cx="363.2" cy="271.8" r="1.25"/><circle cx="365.2" cy="268.5" r="1.25"/><circle cx="367.2" cy="263.9" r="1.25"/><circle cx="369.2" cy="257.3" r="1.25"/><circle cx="371.2" cy="243.2" r="1.25"/></g>
<g fill="#2020ee"><circle cx="375.8" cy="291.9" r="0.9"/><circle cx="377.8" cy="293" r="0.9"/><circle cx="379.8" cy="294.1" r="0.9"/><circle cx="381.8" cy="295.6" r="0.9"/><circle cx="383.8" cy="297.2" r="0.9"/><circle cx="385.8" cy="298.9" r="0.9"/><circle cx="387.8" cy="300.5" r="0.9"/><circle cx="389.8" cy="302.1" r="0.9"/><circle cx="391.8" cy="303.8" r="0.9"/><circle cx="393.8" cy="305.4" r="0.9"/><circle cx="395.8" cy="306.4" r="0.9"/><circle cx="397.8" cy="307.3" r="0.9"/><circle cx="399.8" cy="308.3" r="0.9"/><circle cx="401.8" cy="309.3" r="0.9"/><circle cx="403.8" cy="310.3" r="0.9"/><circle cx="405.8" cy="311.3" r="0.9"/><circle cx="407.8" cy="312.3" r="0.9"/><circle cx="409.8" cy="312.9" r="0.9"/><circle cx="411.8" cy="313.4" r="0.9"/><circle cx="413.8" cy="314" r="0.9"/></g>
<rect x="262.9" y="174" width="211.7" height="147.1" fill="none" stroke="#3a3a3a" stroke-width="1.1"/>
<path d="M262.9 321.1v-4M262.9 174v4M321.71 321.1v-4M321.71 174v4M380.51 321.1v-4M380.51 174v4M439.32 321.1v-4M439.32 174v4M292.3 321.1v-2M292.3 174v2M351.11 321.1v-2M351.11 174v2M409.91 321.1v-2M409.91 174v2M468.72 321.1v-2M468.72 174v2M262.9 285.6h4M474.6 285.6h-4M262.9 248.4h4M474.6 248.4h-4M262.9 211.2h4M474.6 211.2h-4M262.9 174h4M474.6 174h-4M262.9 304.2h2M474.6 304.2h-2M262.9 267h2M474.6 267h-2M262.9 229.8h2M474.6 229.8h-2M262.9 192.6h2M474.6 192.6h-2" stroke="#3a3a3a" stroke-width="1.1" fill="none"/>
<text x="262.9" y="328.8" font-size="7.0" text-anchor="middle" font-family='"Liberation Serif", serif' stroke="#111" stroke-width="0.07">0</text>
<text x="321.71" y="328.8" font-size="7.0" text-anchor="middle" font-family='"Liberation Serif", serif' stroke="#111" stroke-width="0.07">50</text>
<text x="380.51" y="328.8" font-size="7.0" text-anchor="middle" font-family='"Liberation Serif", serif' stroke="#111" stroke-width="0.07">100</text>
<text x="439.32" y="328.8" font-size="7.0" text-anchor="middle" font-family='"Liberation Serif", serif' stroke="#111" stroke-width="0.07">150</text>
<text x="260.9" y="288.2" font-size="7.3" text-anchor="end" font-family='"Liberation Serif", serif' stroke="#111" stroke-width="0.07">100</text>
<text x="260.9" y="251" font-size="7.3" text-anchor="end" font-family='"Liberation Serif", serif' stroke="#111" stroke-width="0.07">200</text>
<text x="260.9" y="213.8" font-size="7.3" text-anchor="end" font-family='"Liberation Serif", serif' stroke="#111" stroke-width="0.07">300</text>
<text x="260.9" y="176.6" font-size="7.3" text-anchor="end" font-family='"Liberation Serif", serif' stroke="#111" stroke-width="0.07">400</text>
<text x="260.9" y="324.2" font-size="7.3" text-anchor="end" font-family='"Liberation Serif", serif' stroke="#111" stroke-width="0.07">0</text>
<text x="368.8" y="337" font-family='"Liberation Serif", serif' font-size="9.0" text-anchor="middle" stroke="#111" stroke-width="0.15">depth (mm H<tspan font-size="5.40" dy="2.97">2</tspan><tspan dy="-2.97">O)</tspan></text>
<text x="0" y="0" transform="translate(246 248.5) rotate(-90)" font-family='"Liberation Serif", serif' font-size="7.5" text-anchor="middle" stroke="#111" stroke-width="0.15">dose averaged LET (keV/µm)</text>
<text x="286.6" y="261" font-size="13.3" text-anchor="middle" font-family='"Liberation Sans", sans-serif' stroke="#111" stroke-width="0.35">D</text>
<text x="291.5" y="198.8" font-size="7.65" text-anchor="start" font-family='"Liberation Serif", serif' stroke="#111" stroke-width="0.15">α/β(target)=2;</text>
<text x="291.5" y="205.9" font-size="7.65" text-anchor="start" font-family='"Liberation Serif", serif' stroke="#111" stroke-width="0.15">α/β(NT)=2</text>
<rect x="410.8" y="184.4" width="29.5" height="40.1" fill="#fff" stroke="#777" stroke-width="0.85"/>
<path d="M413.7 189.2H421.6" stroke="#111" stroke-width="1.0" opacity="0.75"/>
<text x="426.8" y="191.2" font-family='"Liberation Serif", serif' font-size="7.6" stroke="#111" stroke-width="0.15">p</text>
<path d="M413.7 198.2H421.6" stroke="#20d020" stroke-width="1.0" opacity="0.75"/>
<text x="426.8" y="203.2" font-family='"Liberation Serif", serif' font-size="7.6" stroke="#111" stroke-width="0.15"><tspan font-size="4.86" dy="-4.56" stroke-width="0.07">4</tspan><tspan dy="4.56">He</tspan></text>
<path d="M413.7 208.4H421.6" stroke="#ee2020" stroke-width="1.0" opacity="0.75"/>
<text x="426.8" y="213.3" font-family='"Liberation Serif", serif' font-size="7.6" stroke="#111" stroke-width="0.15"><tspan font-size="4.86" dy="-4.56" stroke-width="0.07">12</tspan><tspan dy="4.56">C</tspan></text>
<path d="M413.7 218.6H421.6" stroke="#2020ee" stroke-width="1.0" opacity="0.75"/>
<text x="426.8" y="223.5" font-family='"Liberation Serif", serif' font-size="7.6" stroke="#111" stroke-width="0.15"><tspan font-size="4.86" dy="-4.56" stroke-width="0.07">16</tspan><tspan dy="4.56">O</tspan></text>
</svg>
</body></html>
